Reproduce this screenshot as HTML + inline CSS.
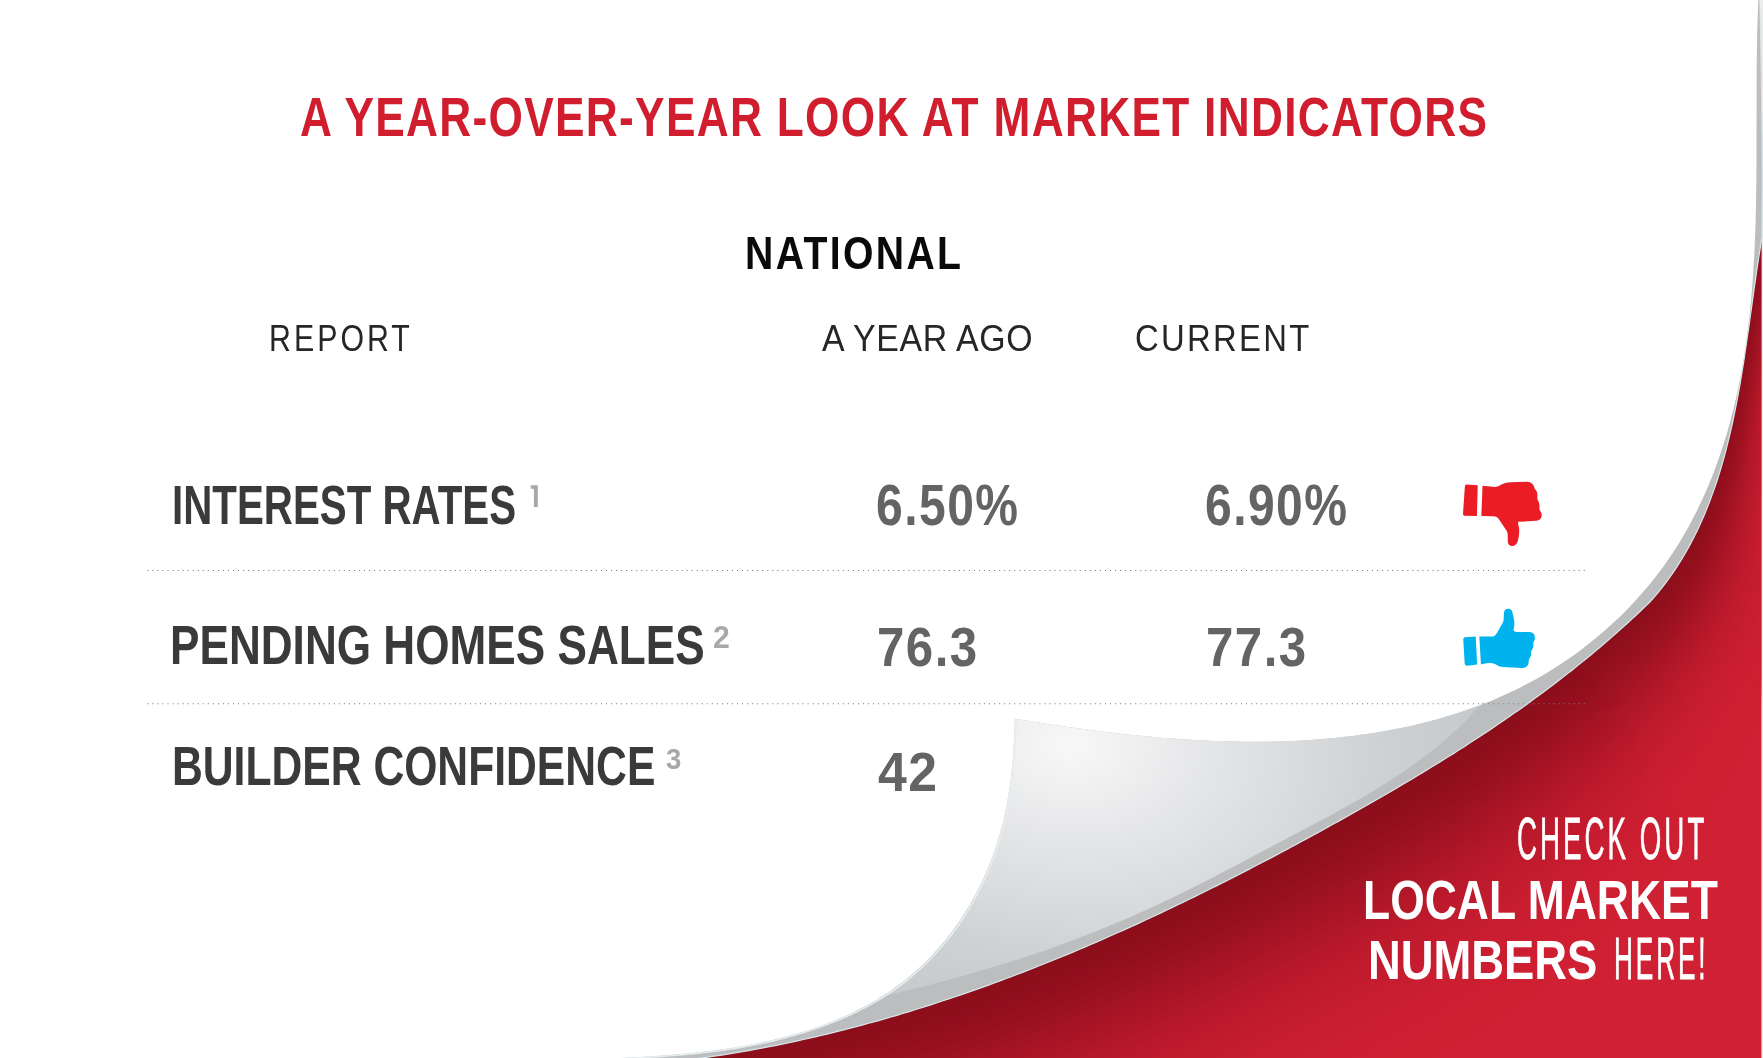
<!DOCTYPE html>
<html><head><meta charset="utf-8"><style>
html,body{margin:0;padding:0;}
body{width:1763px;height:1058px;overflow:hidden;background:#fff;position:relative;font-family:"Liberation Sans",sans-serif;}
.t{position:absolute;white-space:nowrap;transform-origin:0 0;}
svg{position:absolute;left:0;top:0;}
</style></head><body>
<svg width="1763" height="1058" viewBox="0 0 1763 1058">
<defs>
<path id="Fp" d="M659.7,1063.1 L665.8,1062.4 L671.9,1061.7 L677.9,1061.0 L684.0,1060.3 L690.0,1059.5 L696.1,1058.7 L702.1,1057.9 L708.1,1057.1 L714.1,1056.2 L720.2,1055.3 L726.2,1054.3 L732.1,1053.3 L738.1,1052.3 L744.1,1051.3 L750.1,1050.3 L756.0,1049.2 L762.0,1048.1 L767.9,1046.9 L773.9,1045.8 L779.8,1044.6 L785.7,1043.3 L791.6,1042.1 L797.6,1040.8 L803.5,1039.5 L809.4,1038.2 L815.2,1036.8 L821.1,1035.5 L827.0,1034.1 L832.9,1032.6 L838.7,1031.2 L844.6,1029.7 L850.4,1028.2 L856.3,1026.6 L862.1,1025.1 L867.9,1023.5 L873.7,1021.9 L879.5,1020.3 L885.3,1018.6 L891.1,1017.0 L896.9,1015.3 L902.7,1013.5 L908.5,1011.8 L914.2,1010.0 L920.0,1008.2 L925.7,1006.4 L931.5,1004.6 L937.2,1002.7 L943.0,1000.8 L948.7,998.9 L954.4,997.0 L960.1,995.1 L965.8,993.1 L971.5,991.1 L977.2,989.1 L982.9,987.1 L988.6,985.1 L994.3,983.0 L999.9,980.9 L1005.6,978.8 L1011.2,976.7 L1016.9,974.5 L1022.5,972.4 L1028.1,970.2 L1033.8,968.0 L1039.4,965.8 L1045.0,963.5 L1050.6,961.3 L1056.2,959.0 L1061.8,956.7 L1067.4,954.4 L1073.0,952.1 L1078.5,949.7 L1084.1,947.4 L1089.7,945.0 L1095.2,942.6 L1100.8,940.2 L1106.3,937.7 L1111.9,935.3 L1117.4,932.8 L1122.9,930.4 L1128.4,927.9 L1134.0,925.4 L1139.5,922.9 L1145.0,920.3 L1150.5,917.8 L1155.9,915.2 L1161.4,912.6 L1166.9,910.0 L1172.4,907.4 L1177.8,904.8 L1183.3,902.2 L1188.8,899.5 L1194.2,896.9 L1199.6,894.2 L1205.1,891.5 L1210.5,888.8 L1215.9,886.1 L1221.3,883.4 L1226.8,880.7 L1232.2,877.9 L1237.6,875.2 L1243.0,872.4 L1248.4,869.6 L1253.7,866.8 L1259.1,864.0 L1264.5,861.2 L1269.9,858.4 L1275.2,855.6 L1280.6,852.7 L1285.9,849.9 L1291.3,847.0 L1296.6,844.1 L1301.9,841.3 L1307.3,838.4 L1312.6,835.5 L1317.9,832.6 L1323.2,829.7 L1328.5,826.7 L1333.8,823.8 L1339.1,820.9 L1344.4,817.9 L1349.7,815.0 L1355.0,812.0 L1360.2,809.0 L1365.5,806.0 L1370.8,803.0 L1376.0,800.0 L1381.3,797.0 L1386.5,794.0 L1391.7,790.9 L1396.9,787.9 L1402.1,784.8 L1407.3,781.8 L1412.5,778.7 L1417.7,775.6 L1422.9,772.4 L1428.0,769.3 L1433.2,766.1 L1438.3,763.0 L1443.5,759.8 L1448.6,756.6 L1453.7,753.4 L1458.8,750.1 L1463.9,746.9 L1468.9,743.6 L1474.0,740.3 L1479.0,737.0 L1484.0,733.7 L1489.1,730.4 L1494.1,727.0 L1499.1,723.6 L1504.0,720.2 L1509.0,716.8 L1513.9,713.3 L1518.9,709.9 L1523.8,706.4 L1528.7,702.9 L1533.5,699.3 L1538.4,695.8 L1543.3,692.2 L1548.1,688.6 L1552.9,685.0 L1557.7,681.3 L1562.5,677.6 L1567.2,673.9 L1572.0,670.2 L1576.7,666.4 L1581.4,662.6 L1586.1,658.8 L1590.8,655.0 L1595.4,651.1 L1600.0,647.2 L1604.6,643.3 L1609.2,639.4 L1613.8,635.4 L1618.3,631.4 L1622.8,627.3 L1627.3,623.2 L1631.8,619.1 L1636.3,615.0 L1640.7,610.8 L1645.1,606.6 L1649.6,602.4 L1653.8,597.7 L1657.8,592.9 L1661.7,588.1 L1665.5,583.2 L1669.1,578.2 L1672.7,573.2 L1676.1,568.1 L1679.4,562.9 L1682.6,557.7 L1685.7,552.4 L1688.7,547.1 L1691.6,541.7 L1694.4,536.3 L1697.1,530.9 L1699.7,525.3 L1702.2,519.8 L1704.6,514.2 L1706.9,508.5 L1709.2,502.9 L1711.3,497.1 L1713.4,491.4 L1715.4,485.6 L1717.4,479.8 L1719.2,473.9 L1721.0,468.0 L1722.7,462.1 L1724.4,456.2 L1726.0,450.2 L1727.5,444.2 L1729.0,438.2 L1730.4,432.1 L1731.8,426.1 L1733.1,420.0 L1734.4,413.9 L1735.6,407.8 L1736.8,401.7 L1738.0,395.6 L1739.1,389.4 L1740.2,383.3 L1741.2,377.1 L1742.2,370.9 L1743.2,364.8 L1744.2,358.6 L1745.1,352.4 L1746.0,346.3 L1746.9,340.1 L1747.8,333.9 L1748.7,327.8 L1749.6,321.6 L1750.4,315.5 L1751.3,309.4 L1752.1,303.3 L1753.0,297.2 L1753.8,291.1 L1754.7,285.0 L1755.6,279.0 L1756.4,272.9 L1757.3,266.9 L1758.2,260.9 L1759.1,255.0 L1760.1,249.0 L1761.0,243.1 L1762.0,237.3 L1762.4,180.0 L1762.2,140.0 L1760.8,40.0 L1759.8,-2.0"/>
<filter id="sb" x="-20%" y="-20%" width="140%" height="140%" color-interpolation-filters="sRGB"><feGaussianBlur stdDeviation="5"/></filter>
<clipPath id="redclip"><path d="M659.7,1063.1 L665.8,1062.4 L671.9,1061.7 L677.9,1061.0 L684.0,1060.3 L690.0,1059.5 L696.1,1058.7 L702.1,1057.9 L708.1,1057.1 L714.1,1056.2 L720.2,1055.3 L726.2,1054.3 L732.1,1053.3 L738.1,1052.3 L744.1,1051.3 L750.1,1050.3 L756.0,1049.2 L762.0,1048.1 L767.9,1046.9 L773.9,1045.8 L779.8,1044.6 L785.7,1043.3 L791.6,1042.1 L797.6,1040.8 L803.5,1039.5 L809.4,1038.2 L815.2,1036.8 L821.1,1035.5 L827.0,1034.1 L832.9,1032.6 L838.7,1031.2 L844.6,1029.7 L850.4,1028.2 L856.3,1026.6 L862.1,1025.1 L867.9,1023.5 L873.7,1021.9 L879.5,1020.3 L885.3,1018.6 L891.1,1017.0 L896.9,1015.3 L902.7,1013.5 L908.5,1011.8 L914.2,1010.0 L920.0,1008.2 L925.7,1006.4 L931.5,1004.6 L937.2,1002.7 L943.0,1000.8 L948.7,998.9 L954.4,997.0 L960.1,995.1 L965.8,993.1 L971.5,991.1 L977.2,989.1 L982.9,987.1 L988.6,985.1 L994.3,983.0 L999.9,980.9 L1005.6,978.8 L1011.2,976.7 L1016.9,974.5 L1022.5,972.4 L1028.1,970.2 L1033.8,968.0 L1039.4,965.8 L1045.0,963.5 L1050.6,961.3 L1056.2,959.0 L1061.8,956.7 L1067.4,954.4 L1073.0,952.1 L1078.5,949.7 L1084.1,947.4 L1089.7,945.0 L1095.2,942.6 L1100.8,940.2 L1106.3,937.7 L1111.9,935.3 L1117.4,932.8 L1122.9,930.4 L1128.4,927.9 L1134.0,925.4 L1139.5,922.9 L1145.0,920.3 L1150.5,917.8 L1155.9,915.2 L1161.4,912.6 L1166.9,910.0 L1172.4,907.4 L1177.8,904.8 L1183.3,902.2 L1188.8,899.5 L1194.2,896.9 L1199.6,894.2 L1205.1,891.5 L1210.5,888.8 L1215.9,886.1 L1221.3,883.4 L1226.8,880.7 L1232.2,877.9 L1237.6,875.2 L1243.0,872.4 L1248.4,869.6 L1253.7,866.8 L1259.1,864.0 L1264.5,861.2 L1269.9,858.4 L1275.2,855.6 L1280.6,852.7 L1285.9,849.9 L1291.3,847.0 L1296.6,844.1 L1301.9,841.3 L1307.3,838.4 L1312.6,835.5 L1317.9,832.6 L1323.2,829.7 L1328.5,826.7 L1333.8,823.8 L1339.1,820.9 L1344.4,817.9 L1349.7,815.0 L1355.0,812.0 L1360.2,809.0 L1365.5,806.0 L1370.8,803.0 L1376.0,800.0 L1381.3,797.0 L1386.5,794.0 L1391.7,790.9 L1396.9,787.9 L1402.1,784.8 L1407.3,781.8 L1412.5,778.7 L1417.7,775.6 L1422.9,772.4 L1428.0,769.3 L1433.2,766.1 L1438.3,763.0 L1443.5,759.8 L1448.6,756.6 L1453.7,753.4 L1458.8,750.1 L1463.9,746.9 L1468.9,743.6 L1474.0,740.3 L1479.0,737.0 L1484.0,733.7 L1489.1,730.4 L1494.1,727.0 L1499.1,723.6 L1504.0,720.2 L1509.0,716.8 L1513.9,713.3 L1518.9,709.9 L1523.8,706.4 L1528.7,702.9 L1533.5,699.3 L1538.4,695.8 L1543.3,692.2 L1548.1,688.6 L1552.9,685.0 L1557.7,681.3 L1562.5,677.6 L1567.2,673.9 L1572.0,670.2 L1576.7,666.4 L1581.4,662.6 L1586.1,658.8 L1590.8,655.0 L1595.4,651.1 L1600.0,647.2 L1604.6,643.3 L1609.2,639.4 L1613.8,635.4 L1618.3,631.4 L1622.8,627.3 L1627.3,623.2 L1631.8,619.1 L1636.3,615.0 L1640.7,610.8 L1645.1,606.6 L1649.6,602.4 L1653.8,597.7 L1657.8,592.9 L1661.7,588.1 L1665.5,583.2 L1669.1,578.2 L1672.7,573.2 L1676.1,568.1 L1679.4,562.9 L1682.6,557.7 L1685.7,552.4 L1688.7,547.1 L1691.6,541.7 L1694.4,536.3 L1697.1,530.9 L1699.7,525.3 L1702.2,519.8 L1704.6,514.2 L1706.9,508.5 L1709.2,502.9 L1711.3,497.1 L1713.4,491.4 L1715.4,485.6 L1717.4,479.8 L1719.2,473.9 L1721.0,468.0 L1722.7,462.1 L1724.4,456.2 L1726.0,450.2 L1727.5,444.2 L1729.0,438.2 L1730.4,432.1 L1731.8,426.1 L1733.1,420.0 L1734.4,413.9 L1735.6,407.8 L1736.8,401.7 L1738.0,395.6 L1739.1,389.4 L1740.2,383.3 L1741.2,377.1 L1742.2,370.9 L1743.2,364.8 L1744.2,358.6 L1745.1,352.4 L1746.0,346.3 L1746.9,340.1 L1747.8,333.9 L1748.7,327.8 L1749.6,321.6 L1750.4,315.5 L1751.3,309.4 L1752.1,303.3 L1753.0,297.2 L1753.8,291.1 L1754.7,285.0 L1755.6,279.0 L1756.4,272.9 L1757.3,266.9 L1758.2,260.9 L1759.1,255.0 L1760.1,249.0 L1761.0,243.1 L1762.0,237.3 L1761.4,236 L1761.4,1062 Z"/></clipPath>
<radialGradient id="flapg" gradientUnits="userSpaceOnUse" cx="1070" cy="745" r="300" fx="1070" fy="745" gradientTransform="translate(1070 745) rotate(5) scale(1.45 1) translate(-1070 -745)">
<stop offset="0" stop-color="#f8f8f8"/><stop offset="0.35" stop-color="#e3e4e6"/><stop offset="0.7" stop-color="#cfd2d4"/><stop offset="1" stop-color="#c5c8cb"/></radialGradient>
</defs>
<rect x="1761" y="0" width="2" height="1058" fill="#f0e8e9"/>
<path d="M659.7,1063.1 L665.8,1062.4 L671.9,1061.7 L677.9,1061.0 L684.0,1060.3 L690.0,1059.5 L696.1,1058.7 L702.1,1057.9 L708.1,1057.1 L714.1,1056.2 L720.2,1055.3 L726.2,1054.3 L732.1,1053.3 L738.1,1052.3 L744.1,1051.3 L750.1,1050.3 L756.0,1049.2 L762.0,1048.1 L767.9,1046.9 L773.9,1045.8 L779.8,1044.6 L785.7,1043.3 L791.6,1042.1 L797.6,1040.8 L803.5,1039.5 L809.4,1038.2 L815.2,1036.8 L821.1,1035.5 L827.0,1034.1 L832.9,1032.6 L838.7,1031.2 L844.6,1029.7 L850.4,1028.2 L856.3,1026.6 L862.1,1025.1 L867.9,1023.5 L873.7,1021.9 L879.5,1020.3 L885.3,1018.6 L891.1,1017.0 L896.9,1015.3 L902.7,1013.5 L908.5,1011.8 L914.2,1010.0 L920.0,1008.2 L925.7,1006.4 L931.5,1004.6 L937.2,1002.7 L943.0,1000.8 L948.7,998.9 L954.4,997.0 L960.1,995.1 L965.8,993.1 L971.5,991.1 L977.2,989.1 L982.9,987.1 L988.6,985.1 L994.3,983.0 L999.9,980.9 L1005.6,978.8 L1011.2,976.7 L1016.9,974.5 L1022.5,972.4 L1028.1,970.2 L1033.8,968.0 L1039.4,965.8 L1045.0,963.5 L1050.6,961.3 L1056.2,959.0 L1061.8,956.7 L1067.4,954.4 L1073.0,952.1 L1078.5,949.7 L1084.1,947.4 L1089.7,945.0 L1095.2,942.6 L1100.8,940.2 L1106.3,937.7 L1111.9,935.3 L1117.4,932.8 L1122.9,930.4 L1128.4,927.9 L1134.0,925.4 L1139.5,922.9 L1145.0,920.3 L1150.5,917.8 L1155.9,915.2 L1161.4,912.6 L1166.9,910.0 L1172.4,907.4 L1177.8,904.8 L1183.3,902.2 L1188.8,899.5 L1194.2,896.9 L1199.6,894.2 L1205.1,891.5 L1210.5,888.8 L1215.9,886.1 L1221.3,883.4 L1226.8,880.7 L1232.2,877.9 L1237.6,875.2 L1243.0,872.4 L1248.4,869.6 L1253.7,866.8 L1259.1,864.0 L1264.5,861.2 L1269.9,858.4 L1275.2,855.6 L1280.6,852.7 L1285.9,849.9 L1291.3,847.0 L1296.6,844.1 L1301.9,841.3 L1307.3,838.4 L1312.6,835.5 L1317.9,832.6 L1323.2,829.7 L1328.5,826.7 L1333.8,823.8 L1339.1,820.9 L1344.4,817.9 L1349.7,815.0 L1355.0,812.0 L1360.2,809.0 L1365.5,806.0 L1370.8,803.0 L1376.0,800.0 L1381.3,797.0 L1386.5,794.0 L1391.7,790.9 L1396.9,787.9 L1402.1,784.8 L1407.3,781.8 L1412.5,778.7 L1417.7,775.6 L1422.9,772.4 L1428.0,769.3 L1433.2,766.1 L1438.3,763.0 L1443.5,759.8 L1448.6,756.6 L1453.7,753.4 L1458.8,750.1 L1463.9,746.9 L1468.9,743.6 L1474.0,740.3 L1479.0,737.0 L1484.0,733.7 L1489.1,730.4 L1494.1,727.0 L1499.1,723.6 L1504.0,720.2 L1509.0,716.8 L1513.9,713.3 L1518.9,709.9 L1523.8,706.4 L1528.7,702.9 L1533.5,699.3 L1538.4,695.8 L1543.3,692.2 L1548.1,688.6 L1552.9,685.0 L1557.7,681.3 L1562.5,677.6 L1567.2,673.9 L1572.0,670.2 L1576.7,666.4 L1581.4,662.6 L1586.1,658.8 L1590.8,655.0 L1595.4,651.1 L1600.0,647.2 L1604.6,643.3 L1609.2,639.4 L1613.8,635.4 L1618.3,631.4 L1622.8,627.3 L1627.3,623.2 L1631.8,619.1 L1636.3,615.0 L1640.7,610.8 L1645.1,606.6 L1649.6,602.4 L1653.8,597.7 L1657.8,592.9 L1661.7,588.1 L1665.5,583.2 L1669.1,578.2 L1672.7,573.2 L1676.1,568.1 L1679.4,562.9 L1682.6,557.7 L1685.7,552.4 L1688.7,547.1 L1691.6,541.7 L1694.4,536.3 L1697.1,530.9 L1699.7,525.3 L1702.2,519.8 L1704.6,514.2 L1706.9,508.5 L1709.2,502.9 L1711.3,497.1 L1713.4,491.4 L1715.4,485.6 L1717.4,479.8 L1719.2,473.9 L1721.0,468.0 L1722.7,462.1 L1724.4,456.2 L1726.0,450.2 L1727.5,444.2 L1729.0,438.2 L1730.4,432.1 L1731.8,426.1 L1733.1,420.0 L1734.4,413.9 L1735.6,407.8 L1736.8,401.7 L1738.0,395.6 L1739.1,389.4 L1740.2,383.3 L1741.2,377.1 L1742.2,370.9 L1743.2,364.8 L1744.2,358.6 L1745.1,352.4 L1746.0,346.3 L1746.9,340.1 L1747.8,333.9 L1748.7,327.8 L1749.6,321.6 L1750.4,315.5 L1751.3,309.4 L1752.1,303.3 L1753.0,297.2 L1753.8,291.1 L1754.7,285.0 L1755.6,279.0 L1756.4,272.9 L1757.3,266.9 L1758.2,260.9 L1759.1,255.0 L1760.1,249.0 L1761.0,243.1 L1762.0,237.3 L1761.4,236 L1761.4,1062 Z" fill="#d02033"/>
<g clip-path="url(#redclip)"><g filter="url(#sb)"><path d="M657.1,1038.2 L675.0,1036.2 L692.8,1034.0 L710.5,1031.5 L728.1,1028.7 L745.7,1025.7 L763.2,1022.4 L780.6,1018.9 L798.0,1015.1 L815.4,1011.1 L832.6,1006.9 L849.9,1002.5 L867.0,997.8 L884.1,992.9 L901.2,987.9 L918.2,982.6 L935.1,977.1 L952.0,971.4 L968.9,965.6 L985.7,959.5 L1002.4,953.3 L1019.1,946.9 L1035.7,940.3 L1052.3,933.6 L1068.8,926.7 L1085.3,919.6 L1101.7,912.4 L1118.1,905.1 L1134.5,897.6 L1150.8,890.0 L1167.0,882.3 L1183.2,874.4 L1199.4,866.5 L1215.5,858.4 L1231.5,850.2 L1247.5,841.9 L1263.5,833.5 L1279.4,825.0 L1295.3,816.4 L1311.2,807.7 L1327.0,799.0 L1342.7,790.2 L1358.4,781.3 L1373.9,772.4 L1389.4,763.3 L1404.8,754.1 L1420.1,744.8 L1435.3,735.4 L1450.3,725.9 L1465.3,716.2 L1480.1,706.3 L1494.7,696.3 L1509.2,686.0 L1523.6,675.6 L1537.8,665.0 L1551.8,654.2 L1565.7,643.2 L1579.3,632.0 L1592.8,620.5 L1606.1,608.7 L1619.2,596.7 L1631.7,585.0 L1642.0,572.6 L1652.1,559.0 L1661.2,544.8 L1669.5,530.1 L1677.0,514.9 L1683.8,499.2 L1689.9,483.0 L1695.4,466.5 L1700.3,449.6 L1704.7,432.3 L1708.7,414.8 L1712.3,397.0 L1715.5,379.0 L1718.5,360.9 L1721.3,342.6 L1723.9,324.3 L1726.5,305.9 L1729.1,287.6 L1731.7,269.3 L1734.4,251.1 L1737.0,236.7 L1735.8,40.4 L1734.8,-1.4 L1761.6,-2.0 L1762.6,40.0 L1763.8,237.3 L1760.9,255.2 L1758.2,273.2 L1755.6,291.3 L1753.0,309.6 L1750.4,328.0 L1747.8,346.5 L1745.0,365.1 L1741.9,383.6 L1738.6,402.0 L1735.0,420.4 L1731.0,438.7 L1726.6,456.8 L1721.6,474.7 L1716.0,492.3 L1709.8,509.7 L1702.7,526.8 L1694.8,543.5 L1686.0,559.8 L1676.2,575.6 L1665.3,590.9 L1653.2,605.9 L1639.8,618.8 L1626.5,631.4 L1613.0,643.7 L1599.2,655.7 L1585.3,667.4 L1571.2,679.0 L1556.9,690.2 L1542.4,701.3 L1527.8,712.1 L1513.0,722.7 L1498.1,733.0 L1483.1,743.2 L1467.9,753.2 L1452.6,763.1 L1437.2,772.7 L1421.7,782.3 L1406.2,791.6 L1390.5,800.9 L1374.7,810.0 L1358.9,819.0 L1343.0,827.9 L1327.1,836.7 L1311.1,845.4 L1295.0,854.1 L1279.0,862.6 L1262.8,871.1 L1246.6,879.5 L1230.4,887.8 L1214.1,896.0 L1197.7,904.1 L1181.3,912.0 L1164.8,919.9 L1148.3,927.6 L1131.7,935.2 L1115.1,942.6 L1098.4,949.9 L1081.7,957.1 L1064.8,964.1 L1048.0,970.9 L1031.0,977.6 L1014.1,984.2 L997.0,990.5 L979.9,996.7 L962.7,1002.6 L945.5,1008.4 L928.2,1014.0 L910.8,1019.4 L893.4,1024.6 L875.9,1029.6 L858.3,1034.4 L840.7,1038.9 L823.0,1043.2 L805.2,1047.3 L787.4,1051.2 L769.5,1054.8 L751.5,1058.1 L733.4,1061.2 L715.3,1064.1 L697.1,1066.7 L678.9,1069.0 L660.6,1071.0 Z" fill="#8b0e1b"/><path d="M660.6,1071.0 L678.9,1069.0 L697.1,1066.7 L715.3,1064.1 L733.4,1061.2 L751.5,1058.1 L769.5,1054.8 L787.4,1051.2 L805.2,1047.3 L823.0,1043.2 L840.7,1038.9 L858.3,1034.4 L875.9,1029.6 L893.4,1024.6 L910.8,1019.4 L928.2,1014.0 L945.5,1008.4 L962.7,1002.6 L979.9,996.7 L997.0,990.5 L1014.1,984.2 L1031.0,977.6 L1048.0,970.9 L1064.8,964.1 L1081.7,957.1 L1098.4,949.9 L1115.1,942.6 L1131.7,935.2 L1148.3,927.6 L1164.8,919.9 L1181.3,912.0 L1197.7,904.1 L1214.1,896.0 L1230.4,887.8 L1246.6,879.5 L1262.8,871.1 L1279.0,862.6 L1295.0,854.1 L1311.1,845.4 L1327.1,836.7 L1343.0,827.9 L1358.9,819.0 L1374.7,810.0 L1390.5,800.9 L1406.2,791.6 L1421.7,782.3 L1437.2,772.7 L1452.6,763.1 L1467.9,753.2 L1483.1,743.2 L1498.1,733.0 L1513.0,722.7 L1527.8,712.1 L1542.4,701.3 L1556.9,690.2 L1571.2,679.0 L1585.3,667.4 L1599.2,655.7 L1613.0,643.7 L1626.5,631.4 L1639.8,618.8 L1653.2,605.9 L1665.3,590.9 L1676.2,575.6 L1686.0,559.8 L1694.8,543.5 L1702.7,526.8 L1709.8,509.7 L1716.0,492.3 L1721.6,474.7 L1726.6,456.8 L1731.0,438.7 L1735.0,420.4 L1738.6,402.0 L1741.9,383.6 L1745.0,365.1 L1747.8,346.5 L1750.4,328.0 L1753.0,309.6 L1755.6,291.3 L1758.2,273.2 L1760.9,255.2 L1763.8,237.3 L1762.6,40.0 L1761.6,-2.0 L1763.3,-2.1 L1764.3,39.9 L1765.5,237.3 L1762.6,255.5 L1759.9,273.4 L1757.3,291.6 L1754.8,309.9 L1752.2,328.3 L1749.5,346.8 L1746.7,365.3 L1743.6,383.9 L1740.4,402.4 L1736.9,420.8 L1733.0,439.1 L1728.8,457.4 L1724.0,475.4 L1718.6,493.2 L1712.6,510.8 L1705.8,528.2 L1698.1,545.2 L1689.5,561.8 L1679.8,578.0 L1669.0,593.8 L1656.7,609.3 L1643.4,622.6 L1630.1,635.4 L1616.7,648.0 L1603.0,660.2 L1589.2,672.3 L1575.1,684.0 L1560.9,695.5 L1546.4,706.7 L1531.9,717.7 L1517.1,728.5 L1502.2,739.1 L1487.2,749.4 L1472.0,759.6 L1456.7,769.6 L1441.3,779.3 L1425.8,789.0 L1410.2,798.4 L1394.5,807.7 L1378.7,816.9 L1362.8,825.9 L1346.9,834.8 L1330.9,843.7 L1314.9,852.4 L1298.8,861.1 L1282.7,869.7 L1266.5,878.2 L1250.3,886.6 L1234.0,894.9 L1217.6,903.1 L1201.2,911.3 L1184.8,919.2 L1168.3,927.1 L1151.7,934.8 L1135.0,942.5 L1118.3,949.9 L1101.6,957.3 L1084.8,964.5 L1067.9,971.5 L1051.0,978.4 L1034.0,985.1 L1016.9,991.6 L999.8,998.0 L982.6,1004.2 L965.3,1010.2 L948.0,1016.0 L930.6,1021.7 L913.1,1027.1 L895.6,1032.3 L878.0,1037.3 L860.3,1042.1 L842.6,1046.7 L824.8,1051.0 L806.9,1055.1 L789.0,1059.0 L771.0,1062.6 L752.9,1066.0 L734.7,1069.1 L716.5,1072.0 L698.2,1074.6 L679.8,1076.9 L661.4,1079.0 Z" fill="#8d0e1c"/><path d="M661.4,1079.0 L679.8,1076.9 L698.2,1074.6 L716.5,1072.0 L734.7,1069.1 L752.9,1066.0 L771.0,1062.6 L789.0,1059.0 L806.9,1055.1 L824.8,1051.0 L842.6,1046.7 L860.3,1042.1 L878.0,1037.3 L895.6,1032.3 L913.1,1027.1 L930.6,1021.7 L948.0,1016.0 L965.3,1010.2 L982.6,1004.2 L999.8,998.0 L1016.9,991.6 L1034.0,985.1 L1051.0,978.4 L1067.9,971.5 L1084.8,964.5 L1101.6,957.3 L1118.3,949.9 L1135.0,942.5 L1151.7,934.8 L1168.3,927.1 L1184.8,919.2 L1201.2,911.3 L1217.6,903.1 L1234.0,894.9 L1250.3,886.6 L1266.5,878.2 L1282.7,869.7 L1298.8,861.1 L1314.9,852.4 L1330.9,843.7 L1346.9,834.8 L1362.8,825.9 L1378.7,816.9 L1394.5,807.7 L1410.2,798.4 L1425.8,789.0 L1441.3,779.3 L1456.7,769.6 L1472.0,759.6 L1487.2,749.4 L1502.2,739.1 L1517.1,728.5 L1531.9,717.7 L1546.4,706.7 L1560.9,695.5 L1575.1,684.0 L1589.2,672.3 L1603.0,660.2 L1616.7,648.0 L1630.1,635.4 L1643.4,622.6 L1656.7,609.3 L1669.0,593.8 L1679.8,578.0 L1689.5,561.8 L1698.1,545.2 L1705.8,528.2 L1712.6,510.8 L1718.6,493.2 L1724.0,475.4 L1728.8,457.4 L1733.0,439.1 L1736.9,420.8 L1740.4,402.4 L1743.6,383.9 L1746.7,365.3 L1749.5,346.8 L1752.2,328.3 L1754.8,309.9 L1757.3,291.6 L1759.9,273.4 L1762.6,255.5 L1765.5,237.3 L1764.3,39.9 L1763.3,-2.1 L1765.1,-2.1 L1766.1,39.9 L1767.3,237.4 L1764.3,255.8 L1761.6,273.7 L1759.1,291.8 L1756.5,310.1 L1753.9,328.5 L1751.3,347.0 L1748.4,365.6 L1745.4,384.2 L1742.2,402.7 L1738.7,421.2 L1735.0,439.6 L1730.9,457.9 L1726.4,476.1 L1721.2,494.2 L1715.4,512.0 L1708.8,529.6 L1701.3,546.9 L1692.9,563.9 L1683.3,580.5 L1672.6,596.7 L1660.2,612.8 L1646.9,626.4 L1633.8,639.5 L1620.4,652.3 L1606.9,664.8 L1593.1,677.1 L1579.1,689.0 L1564.9,700.7 L1550.5,712.2 L1535.9,723.4 L1521.2,734.4 L1506.3,745.1 L1491.3,755.6 L1476.1,765.9 L1460.8,776.0 L1445.3,785.9 L1429.8,795.7 L1414.2,805.2 L1398.4,814.6 L1382.6,823.8 L1366.7,832.9 L1350.8,841.8 L1334.8,850.7 L1318.7,859.5 L1302.6,868.2 L1286.4,876.8 L1270.2,885.3 L1253.9,893.7 L1237.6,902.1 L1221.2,910.3 L1204.8,918.4 L1188.2,926.4 L1171.7,934.3 L1155.0,942.1 L1138.3,949.7 L1121.6,957.2 L1104.8,964.6 L1087.9,971.8 L1070.9,978.9 L1053.9,985.8 L1036.9,992.5 L1019.7,999.1 L1002.5,1005.5 L985.2,1011.7 L967.9,1017.8 L950.5,1023.6 L933.0,1029.3 L915.5,1034.7 L897.8,1040.0 L880.1,1045.0 L862.4,1049.8 L844.6,1054.4 L826.7,1058.8 L808.7,1062.9 L790.6,1066.8 L772.5,1070.5 L754.3,1073.9 L736.0,1077.0 L717.7,1079.9 L699.3,1082.5 L680.8,1084.9 L662.3,1086.9 Z" fill="#8f0f1c"/><path d="M662.3,1086.9 L680.8,1084.9 L699.3,1082.5 L717.7,1079.9 L736.0,1077.0 L754.3,1073.9 L772.5,1070.5 L790.6,1066.8 L808.7,1062.9 L826.7,1058.8 L844.6,1054.4 L862.4,1049.8 L880.1,1045.0 L897.8,1040.0 L915.5,1034.7 L933.0,1029.3 L950.5,1023.6 L967.9,1017.8 L985.2,1011.7 L1002.5,1005.5 L1019.7,999.1 L1036.9,992.5 L1053.9,985.8 L1070.9,978.9 L1087.9,971.8 L1104.8,964.6 L1121.6,957.2 L1138.3,949.7 L1155.0,942.1 L1171.7,934.3 L1188.2,926.4 L1204.8,918.4 L1221.2,910.3 L1237.6,902.1 L1253.9,893.7 L1270.2,885.3 L1286.4,876.8 L1302.6,868.2 L1318.7,859.5 L1334.8,850.7 L1350.8,841.8 L1366.7,832.9 L1382.6,823.8 L1398.4,814.6 L1414.2,805.2 L1429.8,795.7 L1445.3,785.9 L1460.8,776.0 L1476.1,765.9 L1491.3,755.6 L1506.3,745.1 L1521.2,734.4 L1535.9,723.4 L1550.5,712.2 L1564.9,700.7 L1579.1,689.0 L1593.1,677.1 L1606.9,664.8 L1620.4,652.3 L1633.8,639.5 L1646.9,626.4 L1660.2,612.8 L1672.6,596.7 L1683.3,580.5 L1692.9,563.9 L1701.3,546.9 L1708.8,529.6 L1715.4,512.0 L1721.2,494.2 L1726.4,476.1 L1730.9,457.9 L1735.0,439.6 L1738.7,421.2 L1742.2,402.7 L1745.4,384.2 L1748.4,365.6 L1751.3,347.0 L1753.9,328.5 L1756.5,310.1 L1759.1,291.8 L1761.6,273.7 L1764.3,255.8 L1767.3,237.4 L1766.1,39.9 L1765.1,-2.1 L1766.8,-2.2 L1767.8,39.9 L1769.1,237.4 L1766.1,256.1 L1763.4,273.9 L1760.8,292.1 L1758.2,310.4 L1755.7,328.8 L1753.0,347.3 L1750.2,365.9 L1747.1,384.5 L1743.9,403.0 L1740.6,421.6 L1737.0,440.1 L1733.1,458.5 L1728.7,476.9 L1723.8,495.1 L1718.2,513.1 L1711.9,531.0 L1704.6,548.6 L1696.3,565.9 L1686.9,582.9 L1676.3,599.5 L1663.8,616.2 L1650.5,630.2 L1637.5,643.5 L1624.2,656.6 L1610.7,669.4 L1596.9,681.9 L1583.0,694.1 L1568.8,706.0 L1554.5,717.7 L1540.0,729.1 L1525.2,740.2 L1510.4,751.1 L1495.3,761.8 L1480.2,772.3 L1464.8,782.5 L1449.4,792.5 L1433.8,802.4 L1418.2,812.0 L1402.4,821.5 L1386.6,830.7 L1370.7,839.9 L1354.7,848.8 L1338.6,857.7 L1322.5,866.5 L1306.4,875.2 L1290.2,883.8 L1273.9,892.4 L1257.6,900.9 L1241.2,909.2 L1224.8,917.5 L1208.3,925.6 L1191.7,933.7 L1175.1,941.6 L1158.4,949.4 L1141.6,957.0 L1124.8,964.6 L1107.9,972.0 L1091.0,979.2 L1074.0,986.3 L1056.9,993.2 L1039.8,1000.0 L1022.5,1006.6 L1005.3,1013.0 L987.9,1019.3 L970.5,1025.4 L953.0,1031.2 L935.4,1036.9 L917.8,1042.4 L900.1,1047.7 L882.3,1052.7 L864.4,1057.6 L846.5,1062.2 L828.5,1066.6 L810.4,1070.8 L792.3,1074.7 L774.0,1078.3 L755.7,1081.8 L737.3,1084.9 L718.9,1087.8 L700.3,1090.5 L681.7,1092.8 L663.1,1094.9 Z" fill="#920f1d"/><path d="M663.1,1094.9 L681.7,1092.8 L700.3,1090.5 L718.9,1087.8 L737.3,1084.9 L755.7,1081.8 L774.0,1078.3 L792.3,1074.7 L810.4,1070.8 L828.5,1066.6 L846.5,1062.2 L864.4,1057.6 L882.3,1052.7 L900.1,1047.7 L917.8,1042.4 L935.4,1036.9 L953.0,1031.2 L970.5,1025.4 L987.9,1019.3 L1005.3,1013.0 L1022.5,1006.6 L1039.8,1000.0 L1056.9,993.2 L1074.0,986.3 L1091.0,979.2 L1107.9,972.0 L1124.8,964.6 L1141.6,957.0 L1158.4,949.4 L1175.1,941.6 L1191.7,933.7 L1208.3,925.6 L1224.8,917.5 L1241.2,909.2 L1257.6,900.9 L1273.9,892.4 L1290.2,883.8 L1306.4,875.2 L1322.5,866.5 L1338.6,857.7 L1354.7,848.8 L1370.7,839.9 L1386.6,830.7 L1402.4,821.5 L1418.2,812.0 L1433.8,802.4 L1449.4,792.5 L1464.8,782.5 L1480.2,772.3 L1495.3,761.8 L1510.4,751.1 L1525.2,740.2 L1540.0,729.1 L1554.5,717.7 L1568.8,706.0 L1583.0,694.1 L1596.9,681.9 L1610.7,669.4 L1624.2,656.6 L1637.5,643.5 L1650.5,630.2 L1663.8,616.2 L1676.3,599.5 L1686.9,582.9 L1696.3,565.9 L1704.6,548.6 L1711.9,531.0 L1718.2,513.1 L1723.8,495.1 L1728.7,476.9 L1733.1,458.5 L1737.0,440.1 L1740.6,421.6 L1743.9,403.0 L1747.1,384.5 L1750.2,365.9 L1753.0,347.3 L1755.7,328.8 L1758.2,310.4 L1760.8,292.1 L1763.4,273.9 L1766.1,256.1 L1769.1,237.4 L1767.8,39.9 L1766.8,-2.2 L1768.6,-2.2 L1769.6,39.9 L1770.8,237.4 L1767.8,256.3 L1765.1,274.2 L1762.5,292.3 L1760.0,310.6 L1757.4,329.0 L1754.7,347.6 L1751.9,366.2 L1748.8,384.8 L1745.7,403.4 L1742.5,422.0 L1739.0,440.6 L1735.3,459.1 L1731.1,477.6 L1726.4,496.0 L1721.1,514.3 L1714.9,532.4 L1707.8,550.3 L1699.7,568.0 L1690.4,585.4 L1679.9,602.4 L1667.3,619.6 L1654.0,634.0 L1641.1,647.6 L1627.9,660.9 L1614.5,673.9 L1600.8,686.7 L1586.9,699.1 L1572.8,711.3 L1558.5,723.1 L1544.0,734.7 L1529.3,746.1 L1514.4,757.2 L1499.4,768.0 L1484.2,778.6 L1468.9,789.0 L1453.4,799.1 L1437.9,809.1 L1422.2,818.8 L1406.4,828.3 L1390.5,837.7 L1374.6,846.8 L1358.6,855.8 L1342.5,864.7 L1326.4,873.5 L1310.2,882.3 L1293.9,890.9 L1277.6,899.5 L1261.3,908.0 L1244.8,916.4 L1228.3,924.6 L1211.8,932.8 L1195.2,940.9 L1178.5,948.8 L1161.7,956.6 L1144.9,964.3 L1128.1,971.9 L1111.1,979.3 L1094.1,986.6 L1077.0,993.7 L1059.9,1000.6 L1042.7,1007.5 L1025.4,1014.1 L1008.0,1020.5 L990.6,1026.8 L973.1,1032.9 L955.5,1038.8 L937.8,1044.5 L920.1,1050.1 L902.3,1055.4 L884.4,1060.4 L866.5,1065.3 L848.5,1070.0 L830.3,1074.4 L812.2,1078.6 L793.9,1082.5 L775.6,1086.2 L757.1,1089.6 L738.6,1092.8 L720.1,1095.7 L701.4,1098.4 L682.7,1100.8 L664.0,1102.8 Z" fill="#95101e"/><path d="M664.0,1102.8 L682.7,1100.8 L701.4,1098.4 L720.1,1095.7 L738.6,1092.8 L757.1,1089.6 L775.6,1086.2 L793.9,1082.5 L812.2,1078.6 L830.3,1074.4 L848.5,1070.0 L866.5,1065.3 L884.4,1060.4 L902.3,1055.4 L920.1,1050.1 L937.8,1044.5 L955.5,1038.8 L973.1,1032.9 L990.6,1026.8 L1008.0,1020.5 L1025.4,1014.1 L1042.7,1007.5 L1059.9,1000.6 L1077.0,993.7 L1094.1,986.6 L1111.1,979.3 L1128.1,971.9 L1144.9,964.3 L1161.7,956.6 L1178.5,948.8 L1195.2,940.9 L1211.8,932.8 L1228.3,924.6 L1244.8,916.4 L1261.3,908.0 L1277.6,899.5 L1293.9,890.9 L1310.2,882.3 L1326.4,873.5 L1342.5,864.7 L1358.6,855.8 L1374.6,846.8 L1390.5,837.7 L1406.4,828.3 L1422.2,818.8 L1437.9,809.1 L1453.4,799.1 L1468.9,789.0 L1484.2,778.6 L1499.4,768.0 L1514.4,757.2 L1529.3,746.1 L1544.0,734.7 L1558.5,723.1 L1572.8,711.3 L1586.9,699.1 L1600.8,686.7 L1614.5,673.9 L1627.9,660.9 L1641.1,647.6 L1654.0,634.0 L1667.3,619.6 L1679.9,602.4 L1690.4,585.4 L1699.7,568.0 L1707.8,550.3 L1714.9,532.4 L1721.1,514.3 L1726.4,496.0 L1731.1,477.6 L1735.3,459.1 L1739.0,440.6 L1742.5,422.0 L1745.7,403.4 L1748.8,384.8 L1751.9,366.2 L1754.7,347.6 L1757.4,329.0 L1760.0,310.6 L1762.5,292.3 L1765.1,274.2 L1767.8,256.3 L1770.8,237.4 L1769.6,39.9 L1768.6,-2.2 L1770.4,-2.3 L1771.4,39.8 L1772.6,237.5 L1769.6,256.6 L1766.9,274.5 L1764.3,292.5 L1761.7,310.8 L1759.2,329.3 L1756.5,347.8 L1753.6,366.4 L1750.6,385.1 L1747.5,403.7 L1744.3,422.4 L1741.0,441.1 L1737.5,459.7 L1733.5,478.4 L1729.0,496.9 L1723.9,515.4 L1718.0,533.8 L1711.1,552.0 L1703.1,570.0 L1694.0,587.8 L1683.5,605.2 L1670.8,623.1 L1657.6,637.8 L1644.8,651.7 L1631.7,665.2 L1618.3,678.5 L1604.7,691.5 L1590.9,704.1 L1576.8,716.5 L1562.5,728.6 L1548.1,740.4 L1533.4,751.9 L1518.5,763.2 L1503.5,774.2 L1488.3,785.0 L1473.0,795.5 L1457.5,805.7 L1441.9,815.8 L1426.2,825.6 L1410.4,835.2 L1394.5,844.6 L1378.5,853.8 L1362.4,862.8 L1346.3,871.7 L1330.2,880.6 L1314.0,889.3 L1297.7,898.0 L1281.3,906.6 L1264.9,915.1 L1248.4,923.5 L1231.9,931.8 L1215.3,940.0 L1198.6,948.1 L1181.9,956.0 L1165.1,963.9 L1148.2,971.6 L1131.3,979.2 L1114.3,986.6 L1097.2,993.9 L1080.1,1001.1 L1062.9,1008.1 L1045.6,1014.9 L1028.2,1021.6 L1010.8,1028.1 L993.2,1034.4 L975.7,1040.5 L958.0,1046.4 L940.3,1052.2 L922.4,1057.7 L904.5,1063.0 L886.6,1068.2 L868.5,1073.0 L850.4,1077.7 L832.2,1082.2 L813.9,1086.4 L795.5,1090.3 L777.1,1094.0 L758.6,1097.5 L739.9,1100.7 L721.2,1103.6 L702.5,1106.3 L683.6,1108.7 L664.8,1110.8 Z" fill="#981120"/><path d="M664.8,1110.8 L683.6,1108.7 L702.5,1106.3 L721.2,1103.6 L739.9,1100.7 L758.6,1097.5 L777.1,1094.0 L795.5,1090.3 L813.9,1086.4 L832.2,1082.2 L850.4,1077.7 L868.5,1073.0 L886.6,1068.2 L904.5,1063.0 L922.4,1057.7 L940.3,1052.2 L958.0,1046.4 L975.7,1040.5 L993.2,1034.4 L1010.8,1028.1 L1028.2,1021.6 L1045.6,1014.9 L1062.9,1008.1 L1080.1,1001.1 L1097.2,993.9 L1114.3,986.6 L1131.3,979.2 L1148.2,971.6 L1165.1,963.9 L1181.9,956.0 L1198.6,948.1 L1215.3,940.0 L1231.9,931.8 L1248.4,923.5 L1264.9,915.1 L1281.3,906.6 L1297.7,898.0 L1314.0,889.3 L1330.2,880.6 L1346.3,871.7 L1362.4,862.8 L1378.5,853.8 L1394.5,844.6 L1410.4,835.2 L1426.2,825.6 L1441.9,815.8 L1457.5,805.7 L1473.0,795.5 L1488.3,785.0 L1503.5,774.2 L1518.5,763.2 L1533.4,751.9 L1548.1,740.4 L1562.5,728.6 L1576.8,716.5 L1590.9,704.1 L1604.7,691.5 L1618.3,678.5 L1631.7,665.2 L1644.8,651.7 L1657.6,637.8 L1670.8,623.1 L1683.5,605.2 L1694.0,587.8 L1703.1,570.0 L1711.1,552.0 L1718.0,533.8 L1723.9,515.4 L1729.0,496.9 L1733.5,478.4 L1737.5,459.7 L1741.0,441.1 L1744.3,422.4 L1747.5,403.7 L1750.6,385.1 L1753.6,366.4 L1756.5,347.8 L1759.2,329.3 L1761.7,310.8 L1764.3,292.5 L1766.9,274.5 L1769.6,256.6 L1772.6,237.5 L1771.4,39.8 L1770.4,-2.3 L1772.1,-2.3 L1773.1,39.8 L1774.3,237.5 L1771.3,256.9 L1768.6,274.7 L1766.0,292.8 L1763.5,311.1 L1760.9,329.5 L1758.2,348.1 L1755.4,366.7 L1752.3,385.4 L1749.2,404.1 L1746.2,422.8 L1743.0,441.6 L1739.6,460.3 L1735.9,479.1 L1731.6,497.8 L1726.7,516.5 L1721.0,535.2 L1714.3,553.7 L1706.6,572.1 L1697.6,590.2 L1687.2,608.1 L1674.4,626.5 L1661.1,641.6 L1648.4,655.7 L1635.4,669.5 L1622.1,683.0 L1608.6,696.3 L1594.8,709.2 L1580.8,721.8 L1566.6,734.1 L1552.1,746.1 L1537.4,757.8 L1522.6,769.2 L1507.6,780.4 L1492.4,791.3 L1477.0,801.9 L1461.6,812.3 L1445.9,822.5 L1430.2,832.4 L1414.4,842.0 L1398.4,851.5 L1382.4,860.8 L1366.3,869.8 L1350.2,878.7 L1334.0,887.6 L1317.7,896.4 L1301.4,905.1 L1285.0,913.7 L1268.6,922.2 L1252.1,930.6 L1235.5,939.0 L1218.8,947.2 L1202.1,955.3 L1185.3,963.3 L1168.5,971.2 L1151.5,978.9 L1134.5,986.5 L1117.5,994.0 L1100.3,1001.3 L1083.1,1008.5 L1065.8,1015.5 L1048.5,1022.4 L1031.0,1029.1 L1013.5,1035.6 L995.9,1041.9 L978.3,1048.1 L960.5,1054.0 L942.7,1059.8 L924.8,1065.4 L906.8,1070.7 L888.7,1075.9 L870.6,1080.8 L852.3,1085.5 L834.0,1089.9 L815.6,1094.2 L797.2,1098.2 L778.6,1101.9 L760.0,1105.4 L741.2,1108.6 L722.4,1111.6 L703.5,1114.2 L684.6,1116.6 L665.6,1118.7 Z" fill="#9c1221"/><path d="M665.6,1118.7 L684.6,1116.6 L703.5,1114.2 L722.4,1111.6 L741.2,1108.6 L760.0,1105.4 L778.6,1101.9 L797.2,1098.2 L815.6,1094.2 L834.0,1089.9 L852.3,1085.5 L870.6,1080.8 L888.7,1075.9 L906.8,1070.7 L924.8,1065.4 L942.7,1059.8 L960.5,1054.0 L978.3,1048.1 L995.9,1041.9 L1013.5,1035.6 L1031.0,1029.1 L1048.5,1022.4 L1065.8,1015.5 L1083.1,1008.5 L1100.3,1001.3 L1117.5,994.0 L1134.5,986.5 L1151.5,978.9 L1168.5,971.2 L1185.3,963.3 L1202.1,955.3 L1218.8,947.2 L1235.5,939.0 L1252.1,930.6 L1268.6,922.2 L1285.0,913.7 L1301.4,905.1 L1317.7,896.4 L1334.0,887.6 L1350.2,878.7 L1366.3,869.8 L1382.4,860.8 L1398.4,851.5 L1414.4,842.0 L1430.2,832.4 L1445.9,822.5 L1461.6,812.3 L1477.0,801.9 L1492.4,791.3 L1507.6,780.4 L1522.6,769.2 L1537.4,757.8 L1552.1,746.1 L1566.6,734.1 L1580.8,721.8 L1594.8,709.2 L1608.6,696.3 L1622.1,683.0 L1635.4,669.5 L1648.4,655.7 L1661.1,641.6 L1674.4,626.5 L1687.2,608.1 L1697.6,590.2 L1706.6,572.1 L1714.3,553.7 L1721.0,535.2 L1726.7,516.5 L1731.6,497.8 L1735.9,479.1 L1739.6,460.3 L1743.0,441.6 L1746.2,422.8 L1749.2,404.1 L1752.3,385.4 L1755.4,366.7 L1758.2,348.1 L1760.9,329.5 L1763.5,311.1 L1766.0,292.8 L1768.6,274.7 L1771.3,256.9 L1774.3,237.5 L1773.1,39.8 L1772.1,-2.3 L1773.9,-2.3 L1774.9,39.8 L1776.1,237.6 L1773.0,257.1 L1770.4,275.0 L1767.8,293.0 L1765.2,311.3 L1762.6,329.8 L1760.0,348.3 L1757.1,367.0 L1754.1,385.7 L1751.0,404.4 L1748.0,423.2 L1745.0,442.0 L1741.8,460.9 L1738.3,479.8 L1734.2,498.8 L1729.5,517.7 L1724.0,536.6 L1717.6,555.4 L1710.0,574.1 L1701.1,592.7 L1690.8,611.0 L1677.9,630.0 L1664.7,645.4 L1652.1,659.8 L1639.1,673.8 L1626.0,687.6 L1612.5,701.1 L1598.8,714.2 L1584.8,727.0 L1570.6,739.5 L1556.1,751.8 L1541.5,763.7 L1526.7,775.3 L1511.6,786.6 L1496.5,797.7 L1481.1,808.4 L1465.6,818.9 L1450.0,829.2 L1434.2,839.2 L1418.4,848.9 L1402.4,858.4 L1386.3,867.7 L1370.2,876.8 L1354.0,885.7 L1337.8,894.6 L1321.5,903.4 L1305.2,912.1 L1288.7,920.8 L1272.2,929.3 L1255.7,937.8 L1239.0,946.1 L1222.3,954.4 L1205.6,962.5 L1188.7,970.5 L1171.8,978.4 L1154.8,986.2 L1137.8,993.8 L1120.6,1001.3 L1103.4,1008.7 L1086.2,1015.9 L1068.8,1022.9 L1051.4,1029.8 L1033.9,1036.5 L1016.3,1043.1 L998.6,1049.4 L980.8,1055.6 L963.0,1061.6 L945.1,1067.4 L927.1,1073.0 L909.0,1078.4 L890.9,1083.6 L872.6,1088.5 L854.3,1093.2 L835.9,1097.7 L817.4,1102.0 L798.8,1106.0 L780.1,1109.8 L761.4,1113.3 L742.5,1116.5 L723.6,1119.5 L704.6,1122.2 L685.5,1124.6 L666.5,1126.7 Z" fill="#a01322"/><path d="M666.5,1126.7 L685.5,1124.6 L704.6,1122.2 L723.6,1119.5 L742.5,1116.5 L761.4,1113.3 L780.1,1109.8 L798.8,1106.0 L817.4,1102.0 L835.9,1097.7 L854.3,1093.2 L872.6,1088.5 L890.9,1083.6 L909.0,1078.4 L927.1,1073.0 L945.1,1067.4 L963.0,1061.6 L980.8,1055.6 L998.6,1049.4 L1016.3,1043.1 L1033.9,1036.5 L1051.4,1029.8 L1068.8,1022.9 L1086.2,1015.9 L1103.4,1008.7 L1120.6,1001.3 L1137.8,993.8 L1154.8,986.2 L1171.8,978.4 L1188.7,970.5 L1205.6,962.5 L1222.3,954.4 L1239.0,946.1 L1255.7,937.8 L1272.2,929.3 L1288.7,920.8 L1305.2,912.1 L1321.5,903.4 L1337.8,894.6 L1354.0,885.7 L1370.2,876.8 L1386.3,867.7 L1402.4,858.4 L1418.4,848.9 L1434.2,839.2 L1450.0,829.2 L1465.6,818.9 L1481.1,808.4 L1496.5,797.7 L1511.6,786.6 L1526.7,775.3 L1541.5,763.7 L1556.1,751.8 L1570.6,739.5 L1584.8,727.0 L1598.8,714.2 L1612.5,701.1 L1626.0,687.6 L1639.1,673.8 L1652.1,659.8 L1664.7,645.4 L1677.9,630.0 L1690.8,611.0 L1701.1,592.7 L1710.0,574.1 L1717.6,555.4 L1724.0,536.6 L1729.5,517.7 L1734.2,498.8 L1738.3,479.8 L1741.8,460.9 L1745.0,442.0 L1748.0,423.2 L1751.0,404.4 L1754.1,385.7 L1757.1,367.0 L1760.0,348.3 L1762.6,329.8 L1765.2,311.3 L1767.8,293.0 L1770.4,275.0 L1773.0,257.1 L1776.1,237.6 L1774.9,39.8 L1773.9,-2.3 L1775.6,-2.4 L1776.6,39.7 L1777.9,237.6 L1774.8,257.4 L1772.1,275.2 L1769.5,293.3 L1767.0,311.6 L1764.4,330.0 L1761.7,348.6 L1758.9,367.3 L1755.8,386.0 L1752.8,404.7 L1749.9,423.6 L1747.0,442.5 L1744.0,461.5 L1740.6,480.6 L1736.8,499.7 L1732.4,518.8 L1727.1,538.0 L1720.8,557.1 L1713.4,576.2 L1704.7,595.1 L1694.5,613.8 L1681.4,633.4 L1668.2,649.2 L1655.7,663.8 L1642.9,678.2 L1629.8,692.2 L1616.4,705.9 L1602.7,719.2 L1588.8,732.3 L1574.6,745.0 L1560.2,757.4 L1545.6,769.5 L1530.7,781.3 L1515.7,792.8 L1500.5,804.0 L1485.2,814.9 L1469.7,825.5 L1454.0,835.9 L1438.2,846.0 L1422.3,855.8 L1406.4,865.4 L1390.3,874.7 L1374.1,883.8 L1357.9,892.8 L1341.6,901.6 L1325.3,910.5 L1308.9,919.2 L1292.4,927.9 L1275.9,936.4 L1259.3,944.9 L1242.6,953.3 L1225.9,961.5 L1209.0,969.7 L1192.1,977.8 L1175.2,985.7 L1158.1,993.5 L1141.0,1001.1 L1123.8,1008.7 L1106.6,1016.0 L1089.2,1023.3 L1071.8,1030.4 L1054.3,1037.3 L1036.7,1044.0 L1019.0,1050.6 L1001.3,1057.0 L983.4,1063.2 L965.5,1069.2 L947.5,1075.0 L929.4,1080.7 L911.3,1086.1 L893.0,1091.3 L874.7,1096.3 L856.2,1101.0 L837.7,1105.5 L819.1,1109.8 L800.4,1113.8 L781.7,1117.6 L762.8,1121.1 L743.8,1124.4 L724.8,1127.4 L705.7,1130.1 L686.4,1132.5 L667.3,1134.7 Z" fill="#a41424"/><path d="M667.3,1134.7 L686.4,1132.5 L705.7,1130.1 L724.8,1127.4 L743.8,1124.4 L762.8,1121.1 L781.7,1117.6 L800.4,1113.8 L819.1,1109.8 L837.7,1105.5 L856.2,1101.0 L874.7,1096.3 L893.0,1091.3 L911.3,1086.1 L929.4,1080.7 L947.5,1075.0 L965.5,1069.2 L983.4,1063.2 L1001.3,1057.0 L1019.0,1050.6 L1036.7,1044.0 L1054.3,1037.3 L1071.8,1030.4 L1089.2,1023.3 L1106.6,1016.0 L1123.8,1008.7 L1141.0,1001.1 L1158.1,993.5 L1175.2,985.7 L1192.1,977.8 L1209.0,969.7 L1225.9,961.5 L1242.6,953.3 L1259.3,944.9 L1275.9,936.4 L1292.4,927.9 L1308.9,919.2 L1325.3,910.5 L1341.6,901.6 L1357.9,892.8 L1374.1,883.8 L1390.3,874.7 L1406.4,865.4 L1422.3,855.8 L1438.2,846.0 L1454.0,835.9 L1469.7,825.5 L1485.2,814.9 L1500.5,804.0 L1515.7,792.8 L1530.7,781.3 L1545.6,769.5 L1560.2,757.4 L1574.6,745.0 L1588.8,732.3 L1602.7,719.2 L1616.4,705.9 L1629.8,692.2 L1642.9,678.2 L1655.7,663.8 L1668.2,649.2 L1681.4,633.4 L1694.5,613.8 L1704.7,595.1 L1713.4,576.2 L1720.8,557.1 L1727.1,538.0 L1732.4,518.8 L1736.8,499.7 L1740.6,480.6 L1744.0,461.5 L1747.0,442.5 L1749.9,423.6 L1752.8,404.7 L1755.8,386.0 L1758.9,367.3 L1761.7,348.6 L1764.4,330.0 L1767.0,311.6 L1769.5,293.3 L1772.1,275.2 L1774.8,257.4 L1777.9,237.6 L1776.6,39.7 L1775.6,-2.4 L1777.4,-2.4 L1778.4,39.7 L1779.6,237.6 L1776.5,257.7 L1773.8,275.5 L1771.3,293.5 L1768.7,311.8 L1766.1,330.3 L1763.4,348.8 L1760.6,367.5 L1757.5,386.3 L1754.6,405.1 L1751.8,424.0 L1749.0,443.0 L1746.2,462.1 L1743.0,481.3 L1739.4,500.6 L1735.2,520.0 L1730.1,539.4 L1724.1,558.8 L1716.8,578.3 L1708.2,597.6 L1698.1,616.7 L1685.0,636.9 L1671.8,653.0 L1659.4,667.9 L1646.6,682.5 L1633.6,696.7 L1620.3,710.7 L1606.6,724.3 L1592.8,737.5 L1578.6,750.5 L1564.2,763.1 L1549.6,775.4 L1534.8,787.4 L1519.8,799.0 L1504.6,810.3 L1489.2,821.4 L1473.7,832.1 L1458.0,842.6 L1442.2,852.7 L1426.3,862.6 L1410.3,872.3 L1394.2,881.7 L1378.0,890.8 L1361.7,899.8 L1345.4,908.7 L1329.1,917.5 L1312.6,926.3 L1296.1,934.9 L1279.5,943.5 L1262.9,952.0 L1246.2,960.4 L1229.4,968.7 L1212.5,976.9 L1195.6,985.0 L1178.5,992.9 L1161.4,1000.8 L1144.3,1008.5 L1127.0,1016.0 L1109.7,1023.4 L1092.2,1030.7 L1074.8,1037.8 L1057.2,1044.7 L1039.5,1051.5 L1021.8,1058.1 L1003.9,1064.5 L986.0,1070.8 L968.0,1076.8 L949.9,1082.7 L931.8,1088.3 L913.5,1093.8 L895.2,1099.0 L876.7,1104.0 L858.2,1108.8 L839.6,1113.3 L820.9,1117.6 L802.1,1121.7 L783.2,1125.5 L764.2,1129.0 L745.1,1132.3 L726.0,1135.3 L706.7,1138.0 L687.4,1140.5 L668.2,1142.6 Z" fill="#a81525"/><path d="M668.2,1142.6 L687.4,1140.5 L706.7,1138.0 L726.0,1135.3 L745.1,1132.3 L764.2,1129.0 L783.2,1125.5 L802.1,1121.7 L820.9,1117.6 L839.6,1113.3 L858.2,1108.8 L876.7,1104.0 L895.2,1099.0 L913.5,1093.8 L931.8,1088.3 L949.9,1082.7 L968.0,1076.8 L986.0,1070.8 L1003.9,1064.5 L1021.8,1058.1 L1039.5,1051.5 L1057.2,1044.7 L1074.8,1037.8 L1092.2,1030.7 L1109.7,1023.4 L1127.0,1016.0 L1144.3,1008.5 L1161.4,1000.8 L1178.5,992.9 L1195.6,985.0 L1212.5,976.9 L1229.4,968.7 L1246.2,960.4 L1262.9,952.0 L1279.5,943.5 L1296.1,934.9 L1312.6,926.3 L1329.1,917.5 L1345.4,908.7 L1361.7,899.8 L1378.0,890.8 L1394.2,881.7 L1410.3,872.3 L1426.3,862.6 L1442.2,852.7 L1458.0,842.6 L1473.7,832.1 L1489.2,821.4 L1504.6,810.3 L1519.8,799.0 L1534.8,787.4 L1549.6,775.4 L1564.2,763.1 L1578.6,750.5 L1592.8,737.5 L1606.6,724.3 L1620.3,710.7 L1633.6,696.7 L1646.6,682.5 L1659.4,667.9 L1671.8,653.0 L1685.0,636.9 L1698.1,616.7 L1708.2,597.6 L1716.8,578.3 L1724.1,558.8 L1730.1,539.4 L1735.2,520.0 L1739.4,500.6 L1743.0,481.3 L1746.2,462.1 L1749.0,443.0 L1751.8,424.0 L1754.6,405.1 L1757.5,386.3 L1760.6,367.5 L1763.4,348.8 L1766.1,330.3 L1768.7,311.8 L1771.3,293.5 L1773.8,275.5 L1776.5,257.7 L1779.6,237.6 L1778.4,39.7 L1777.4,-2.4 L1779.2,-2.5 L1780.2,39.7 L1781.4,237.7 L1778.3,258.0 L1775.6,275.7 L1773.0,293.8 L1770.5,312.0 L1767.9,330.5 L1765.2,349.1 L1762.3,367.8 L1759.3,386.6 L1756.3,405.4 L1753.6,424.4 L1751.0,443.5 L1748.3,462.7 L1745.4,482.0 L1742.0,501.5 L1738.0,521.1 L1733.2,540.8 L1727.3,560.6 L1720.2,580.3 L1711.8,600.0 L1701.7,619.5 L1688.5,640.3 L1675.3,656.8 L1663.0,671.9 L1650.4,686.8 L1637.4,701.3 L1624.1,715.5 L1610.6,729.3 L1596.7,742.8 L1582.6,756.0 L1568.3,768.8 L1553.7,781.2 L1538.9,793.4 L1523.9,805.2 L1508.7,816.7 L1493.3,827.9 L1477.8,838.7 L1462.1,849.3 L1446.3,859.5 L1430.3,869.5 L1414.3,879.2 L1398.1,888.6 L1381.9,897.8 L1365.6,906.8 L1349.3,915.7 L1332.9,924.6 L1316.4,933.3 L1299.8,942.0 L1283.2,950.7 L1266.5,959.2 L1249.7,967.6 L1232.9,975.9 L1216.0,984.1 L1199.0,992.2 L1181.9,1000.2 L1164.7,1008.1 L1147.5,1015.8 L1130.2,1023.4 L1112.8,1030.8 L1095.3,1038.1 L1077.7,1045.2 L1060.1,1052.2 L1042.3,1059.0 L1024.5,1065.6 L1006.6,1072.1 L988.6,1078.3 L970.5,1084.4 L952.4,1090.3 L934.1,1096.0 L915.7,1101.4 L897.3,1106.7 L878.8,1111.7 L860.1,1116.5 L841.4,1121.1 L822.6,1125.4 L803.7,1129.5 L784.7,1133.3 L765.6,1136.9 L746.4,1140.2 L727.2,1143.2 L707.8,1146.0 L688.3,1148.4 L669.0,1150.6 Z" fill="#ab1626"/><path d="M669.0,1150.6 L688.3,1148.4 L707.8,1146.0 L727.2,1143.2 L746.4,1140.2 L765.6,1136.9 L784.7,1133.3 L803.7,1129.5 L822.6,1125.4 L841.4,1121.1 L860.1,1116.5 L878.8,1111.7 L897.3,1106.7 L915.7,1101.4 L934.1,1096.0 L952.4,1090.3 L970.5,1084.4 L988.6,1078.3 L1006.6,1072.1 L1024.5,1065.6 L1042.3,1059.0 L1060.1,1052.2 L1077.7,1045.2 L1095.3,1038.1 L1112.8,1030.8 L1130.2,1023.4 L1147.5,1015.8 L1164.7,1008.1 L1181.9,1000.2 L1199.0,992.2 L1216.0,984.1 L1232.9,975.9 L1249.7,967.6 L1266.5,959.2 L1283.2,950.7 L1299.8,942.0 L1316.4,933.3 L1332.9,924.6 L1349.3,915.7 L1365.6,906.8 L1381.9,897.8 L1398.1,888.6 L1414.3,879.2 L1430.3,869.5 L1446.3,859.5 L1462.1,849.3 L1477.8,838.7 L1493.3,827.9 L1508.7,816.7 L1523.9,805.2 L1538.9,793.4 L1553.7,781.2 L1568.3,768.8 L1582.6,756.0 L1596.7,742.8 L1610.6,729.3 L1624.1,715.5 L1637.4,701.3 L1650.4,686.8 L1663.0,671.9 L1675.3,656.8 L1688.5,640.3 L1701.7,619.5 L1711.8,600.0 L1720.2,580.3 L1727.3,560.6 L1733.2,540.8 L1738.0,521.1 L1742.0,501.5 L1745.4,482.0 L1748.3,462.7 L1751.0,443.5 L1753.6,424.4 L1756.3,405.4 L1759.3,386.6 L1762.3,367.8 L1765.2,349.1 L1767.9,330.5 L1770.5,312.0 L1773.0,293.8 L1775.6,275.7 L1778.3,258.0 L1781.4,237.7 L1780.2,39.7 L1779.2,-2.5 L1780.9,-2.5 L1781.9,39.6 L1783.1,237.7 L1780.0,258.2 L1777.3,276.0 L1774.7,294.0 L1772.2,312.3 L1769.6,330.8 L1766.9,349.4 L1764.1,368.1 L1761.0,386.9 L1758.1,405.7 L1755.5,424.8 L1753.0,444.0 L1750.5,463.3 L1747.8,482.8 L1744.6,502.4 L1740.8,522.2 L1736.2,542.2 L1730.6,562.3 L1723.7,582.4 L1715.3,602.5 L1705.4,622.4 L1692.0,643.7 L1678.9,660.6 L1666.7,676.0 L1654.1,691.1 L1641.2,705.8 L1628.0,720.3 L1614.5,734.3 L1600.7,748.1 L1586.7,761.4 L1572.3,774.4 L1557.8,787.1 L1543.0,799.4 L1528.0,811.4 L1512.7,823.0 L1497.4,834.3 L1481.8,845.3 L1466.1,856.0 L1450.3,866.3 L1434.3,876.4 L1418.2,886.1 L1402.0,895.6 L1385.8,904.8 L1369.5,913.8 L1353.1,922.7 L1336.6,931.6 L1320.1,940.4 L1303.5,949.1 L1286.9,957.8 L1270.1,966.3 L1253.3,974.8 L1236.4,983.1 L1219.4,991.3 L1202.4,999.5 L1185.2,1007.5 L1168.0,1015.3 L1150.7,1023.1 L1133.4,1030.7 L1115.9,1038.2 L1098.3,1045.5 L1080.7,1052.6 L1063.0,1059.6 L1045.2,1066.5 L1027.3,1073.1 L1009.3,1079.6 L991.2,1085.9 L973.0,1092.0 L954.8,1097.9 L936.4,1103.6 L918.0,1109.1 L899.4,1114.4 L880.8,1119.5 L862.1,1124.3 L843.3,1128.9 L824.3,1133.2 L805.3,1137.3 L786.2,1141.2 L767.0,1144.8 L747.7,1148.1 L728.3,1151.1 L708.9,1153.9 L689.3,1156.4 L669.9,1158.5 Z" fill="#af1728"/><path d="M669.9,1158.5 L689.3,1156.4 L708.9,1153.9 L728.3,1151.1 L747.7,1148.1 L767.0,1144.8 L786.2,1141.2 L805.3,1137.3 L824.3,1133.2 L843.3,1128.9 L862.1,1124.3 L880.8,1119.5 L899.4,1114.4 L918.0,1109.1 L936.4,1103.6 L954.8,1097.9 L973.0,1092.0 L991.2,1085.9 L1009.3,1079.6 L1027.3,1073.1 L1045.2,1066.5 L1063.0,1059.6 L1080.7,1052.6 L1098.3,1045.5 L1115.9,1038.2 L1133.4,1030.7 L1150.7,1023.1 L1168.0,1015.3 L1185.2,1007.5 L1202.4,999.5 L1219.4,991.3 L1236.4,983.1 L1253.3,974.8 L1270.1,966.3 L1286.9,957.8 L1303.5,949.1 L1320.1,940.4 L1336.6,931.6 L1353.1,922.7 L1369.5,913.8 L1385.8,904.8 L1402.0,895.6 L1418.2,886.1 L1434.3,876.4 L1450.3,866.3 L1466.1,856.0 L1481.8,845.3 L1497.4,834.3 L1512.7,823.0 L1528.0,811.4 L1543.0,799.4 L1557.8,787.1 L1572.3,774.4 L1586.7,761.4 L1600.7,748.1 L1614.5,734.3 L1628.0,720.3 L1641.2,705.8 L1654.1,691.1 L1666.7,676.0 L1678.9,660.6 L1692.0,643.7 L1705.4,622.4 L1715.3,602.5 L1723.7,582.4 L1730.6,562.3 L1736.2,542.2 L1740.8,522.2 L1744.6,502.4 L1747.8,482.8 L1750.5,463.3 L1753.0,444.0 L1755.5,424.8 L1758.1,405.7 L1761.0,386.9 L1764.1,368.1 L1766.9,349.4 L1769.6,330.8 L1772.2,312.3 L1774.7,294.0 L1777.3,276.0 L1780.0,258.2 L1783.1,237.7 L1781.9,39.6 L1780.9,-2.5 L1782.7,-2.5 L1783.7,39.6 L1784.9,237.7 L1781.7,258.5 L1779.1,276.2 L1776.5,294.3 L1773.9,312.5 L1771.4,331.0 L1768.7,349.6 L1765.8,368.3 L1762.7,387.2 L1759.9,406.1 L1757.4,425.2 L1755.0,444.4 L1752.7,463.9 L1750.2,483.5 L1747.2,503.4 L1743.7,523.4 L1739.3,543.6 L1733.8,564.0 L1727.1,584.4 L1718.9,604.9 L1709.0,625.2 L1695.6,647.2 L1682.4,664.4 L1670.3,680.1 L1657.8,695.4 L1645.0,710.4 L1631.9,725.1 L1618.5,739.4 L1604.7,753.3 L1590.7,766.9 L1576.4,780.1 L1561.8,793.0 L1547.0,805.5 L1532.0,817.6 L1516.8,829.4 L1501.4,840.8 L1485.9,851.9 L1470.1,862.7 L1454.3,873.1 L1438.3,883.2 L1422.2,893.0 L1406.0,902.6 L1389.7,911.8 L1373.3,920.8 L1356.9,929.8 L1340.4,938.7 L1323.9,947.5 L1307.2,956.2 L1290.5,964.9 L1273.7,973.4 L1256.9,981.9 L1239.9,990.3 L1222.9,998.5 L1205.8,1006.7 L1188.6,1014.7 L1171.3,1022.6 L1154.0,1030.4 L1136.5,1038.0 L1119.0,1045.5 L1101.4,1052.9 L1083.7,1060.1 L1065.9,1067.1 L1048.0,1074.0 L1030.0,1080.6 L1012.0,1087.2 L993.8,1093.5 L975.5,1099.6 L957.2,1105.5 L938.7,1111.3 L920.2,1116.8 L901.6,1122.1 L882.9,1127.2 L864.0,1132.0 L845.1,1136.7 L826.1,1141.0 L807.0,1145.2 L787.8,1149.0 L768.4,1152.6 L749.0,1156.0 L729.5,1159.0 L709.9,1161.8 L690.2,1164.3 L670.7,1166.5 Z" fill="#b31829"/><path d="M670.7,1166.5 L690.2,1164.3 L709.9,1161.8 L729.5,1159.0 L749.0,1156.0 L768.4,1152.6 L787.8,1149.0 L807.0,1145.2 L826.1,1141.0 L845.1,1136.7 L864.0,1132.0 L882.9,1127.2 L901.6,1122.1 L920.2,1116.8 L938.7,1111.3 L957.2,1105.5 L975.5,1099.6 L993.8,1093.5 L1012.0,1087.2 L1030.0,1080.6 L1048.0,1074.0 L1065.9,1067.1 L1083.7,1060.1 L1101.4,1052.9 L1119.0,1045.5 L1136.5,1038.0 L1154.0,1030.4 L1171.3,1022.6 L1188.6,1014.7 L1205.8,1006.7 L1222.9,998.5 L1239.9,990.3 L1256.9,981.9 L1273.7,973.4 L1290.5,964.9 L1307.2,956.2 L1323.9,947.5 L1340.4,938.7 L1356.9,929.8 L1373.3,920.8 L1389.7,911.8 L1406.0,902.6 L1422.2,893.0 L1438.3,883.2 L1454.3,873.1 L1470.1,862.7 L1485.9,851.9 L1501.4,840.8 L1516.8,829.4 L1532.0,817.6 L1547.0,805.5 L1561.8,793.0 L1576.4,780.1 L1590.7,766.9 L1604.7,753.3 L1618.5,739.4 L1631.9,725.1 L1645.0,710.4 L1657.8,695.4 L1670.3,680.1 L1682.4,664.4 L1695.6,647.2 L1709.0,625.2 L1718.9,604.9 L1727.1,584.4 L1733.8,564.0 L1739.3,543.6 L1743.7,523.4 L1747.2,503.4 L1750.2,483.5 L1752.7,463.9 L1755.0,444.4 L1757.4,425.2 L1759.9,406.1 L1762.7,387.2 L1765.8,368.3 L1768.7,349.6 L1771.4,331.0 L1773.9,312.5 L1776.5,294.3 L1779.1,276.2 L1781.7,258.5 L1784.9,237.7 L1783.7,39.6 L1782.7,-2.5 L1784.4,-2.6 L1785.4,39.6 L1786.7,237.8 L1783.5,258.8 L1780.8,276.5 L1778.2,294.5 L1775.7,312.8 L1773.1,331.2 L1770.4,349.9 L1767.6,368.6 L1764.5,387.5 L1761.6,406.4 L1759.2,425.6 L1757.0,444.9 L1754.9,464.5 L1752.5,484.3 L1749.8,504.3 L1746.5,524.5 L1742.3,545.0 L1737.1,565.7 L1730.5,586.5 L1722.4,607.3 L1712.6,628.1 L1699.1,650.6 L1686.0,668.2 L1674.0,684.1 L1661.6,699.7 L1648.9,715.0 L1635.8,729.9 L1622.4,744.4 L1608.7,758.6 L1594.7,772.4 L1580.4,785.8 L1565.9,798.8 L1551.1,811.5 L1536.1,823.8 L1520.9,835.7 L1505.5,847.3 L1489.9,858.5 L1474.2,869.4 L1458.3,879.9 L1442.3,890.1 L1426.1,900.0 L1409.9,909.5 L1393.5,918.8 L1377.2,927.8 L1360.7,936.8 L1344.2,945.7 L1327.6,954.6 L1310.9,963.3 L1294.2,972.0 L1277.4,980.6 L1260.4,989.1 L1243.4,997.5 L1226.4,1005.8 L1209.2,1013.9 L1192.0,1022.0 L1174.6,1029.9 L1157.2,1037.7 L1139.7,1045.4 L1122.1,1052.9 L1104.4,1060.3 L1086.6,1067.5 L1068.8,1074.5 L1050.8,1081.4 L1032.8,1088.2 L1014.6,1094.7 L996.4,1101.0 L978.0,1107.2 L959.6,1113.2 L941.1,1118.9 L922.5,1124.5 L903.7,1129.8 L884.9,1134.9 L866.0,1139.8 L846.9,1144.4 L827.8,1148.8 L808.6,1153.0 L789.3,1156.9 L769.9,1160.5 L750.3,1163.9 L730.7,1166.9 L711.0,1169.7 L691.2,1172.3 L671.5,1174.4 Z" fill="#b6192a"/><path d="M671.5,1174.4 L691.2,1172.3 L711.0,1169.7 L730.7,1166.9 L750.3,1163.9 L769.9,1160.5 L789.3,1156.9 L808.6,1153.0 L827.8,1148.8 L846.9,1144.4 L866.0,1139.8 L884.9,1134.9 L903.7,1129.8 L922.5,1124.5 L941.1,1118.9 L959.6,1113.2 L978.0,1107.2 L996.4,1101.0 L1014.6,1094.7 L1032.8,1088.2 L1050.8,1081.4 L1068.8,1074.5 L1086.6,1067.5 L1104.4,1060.3 L1122.1,1052.9 L1139.7,1045.4 L1157.2,1037.7 L1174.6,1029.9 L1192.0,1022.0 L1209.2,1013.9 L1226.4,1005.8 L1243.4,997.5 L1260.4,989.1 L1277.4,980.6 L1294.2,972.0 L1310.9,963.3 L1327.6,954.6 L1344.2,945.7 L1360.7,936.8 L1377.2,927.8 L1393.5,918.8 L1409.9,909.5 L1426.1,900.0 L1442.3,890.1 L1458.3,879.9 L1474.2,869.4 L1489.9,858.5 L1505.5,847.3 L1520.9,835.7 L1536.1,823.8 L1551.1,811.5 L1565.9,798.8 L1580.4,785.8 L1594.7,772.4 L1608.7,758.6 L1622.4,744.4 L1635.8,729.9 L1648.9,715.0 L1661.6,699.7 L1674.0,684.1 L1686.0,668.2 L1699.1,650.6 L1712.6,628.1 L1722.4,607.3 L1730.5,586.5 L1737.1,565.7 L1742.3,545.0 L1746.5,524.5 L1749.8,504.3 L1752.5,484.3 L1754.9,464.5 L1757.0,444.9 L1759.2,425.6 L1761.6,406.4 L1764.5,387.5 L1767.6,368.6 L1770.4,349.9 L1773.1,331.2 L1775.7,312.8 L1778.2,294.5 L1780.8,276.5 L1783.5,258.8 L1786.7,237.8 L1785.4,39.6 L1784.4,-2.6 L1786.2,-2.6 L1787.2,39.6 L1788.4,237.8 L1785.2,259.0 L1782.5,276.7 L1780.0,294.8 L1777.4,313.0 L1774.8,331.5 L1772.2,350.1 L1769.3,368.9 L1766.2,387.7 L1763.4,406.8 L1761.1,426.0 L1759.0,445.4 L1757.1,465.1 L1754.9,485.0 L1752.4,505.2 L1749.3,525.7 L1745.4,546.4 L1740.3,567.4 L1733.9,588.5 L1726.0,609.8 L1716.3,631.0 L1702.6,654.1 L1689.5,672.0 L1677.6,688.2 L1665.3,704.0 L1652.7,719.5 L1639.7,734.7 L1626.3,749.4 L1612.7,763.8 L1598.7,777.8 L1584.5,791.4 L1570.0,804.7 L1555.2,817.5 L1540.2,830.0 L1525.0,842.1 L1509.6,853.8 L1494.0,865.1 L1478.2,876.1 L1462.3,886.7 L1446.2,897.0 L1430.1,906.9 L1413.8,916.5 L1397.4,925.7 L1381.0,934.8 L1364.5,943.8 L1348.0,952.8 L1331.4,961.6 L1314.6,970.4 L1297.8,979.1 L1281.0,987.7 L1264.0,996.2 L1247.0,1004.7 L1229.8,1013.0 L1212.6,1021.2 L1195.3,1029.2 L1177.9,1037.2 L1160.5,1045.0 L1142.9,1052.7 L1125.2,1060.3 L1107.5,1067.7 L1089.6,1074.9 L1071.7,1082.0 L1053.7,1088.9 L1035.5,1095.7 L1017.3,1102.2 L999.0,1108.6 L980.5,1114.8 L962.0,1120.8 L943.4,1126.6 L924.7,1132.2 L905.9,1137.5 L886.9,1142.7 L867.9,1147.6 L848.8,1152.2 L829.6,1156.6 L810.2,1160.8 L790.8,1164.7 L771.3,1168.4 L751.6,1171.8 L731.9,1174.9 L712.1,1177.7 L692.1,1180.2 L672.4,1182.4 Z" fill="#b91a2b"/><path d="M672.4,1182.4 L692.1,1180.2 L712.1,1177.7 L731.9,1174.9 L751.6,1171.8 L771.3,1168.4 L790.8,1164.7 L810.2,1160.8 L829.6,1156.6 L848.8,1152.2 L867.9,1147.6 L886.9,1142.7 L905.9,1137.5 L924.7,1132.2 L943.4,1126.6 L962.0,1120.8 L980.5,1114.8 L999.0,1108.6 L1017.3,1102.2 L1035.5,1095.7 L1053.7,1088.9 L1071.7,1082.0 L1089.6,1074.9 L1107.5,1067.7 L1125.2,1060.3 L1142.9,1052.7 L1160.5,1045.0 L1177.9,1037.2 L1195.3,1029.2 L1212.6,1021.2 L1229.8,1013.0 L1247.0,1004.7 L1264.0,996.2 L1281.0,987.7 L1297.8,979.1 L1314.6,970.4 L1331.4,961.6 L1348.0,952.8 L1364.5,943.8 L1381.0,934.8 L1397.4,925.7 L1413.8,916.5 L1430.1,906.9 L1446.2,897.0 L1462.3,886.7 L1478.2,876.1 L1494.0,865.1 L1509.6,853.8 L1525.0,842.1 L1540.2,830.0 L1555.2,817.5 L1570.0,804.7 L1584.5,791.4 L1598.7,777.8 L1612.7,763.8 L1626.3,749.4 L1639.7,734.7 L1652.7,719.5 L1665.3,704.0 L1677.6,688.2 L1689.5,672.0 L1702.6,654.1 L1716.3,631.0 L1726.0,609.8 L1733.9,588.5 L1740.3,567.4 L1745.4,546.4 L1749.3,525.7 L1752.4,505.2 L1754.9,485.0 L1757.1,465.1 L1759.0,445.4 L1761.1,426.0 L1763.4,406.8 L1766.2,387.7 L1769.3,368.9 L1772.2,350.1 L1774.8,331.5 L1777.4,313.0 L1780.0,294.8 L1782.5,276.7 L1785.2,259.0 L1788.4,237.8 L1787.2,39.6 L1786.2,-2.6 L1788.0,-2.7 L1789.0,39.5 L1790.2,237.9 L1787.0,259.3 L1784.3,277.0 L1781.7,295.0 L1779.2,313.3 L1776.6,331.7 L1773.9,350.4 L1771.0,369.2 L1767.9,388.0 L1765.2,407.1 L1763.0,426.4 L1761.0,445.9 L1759.2,465.7 L1757.3,485.7 L1755.0,506.1 L1752.1,526.8 L1748.4,547.8 L1743.5,569.1 L1737.3,590.6 L1729.5,612.2 L1719.9,633.8 L1706.2,657.5 L1693.1,675.8 L1681.3,692.2 L1669.1,708.3 L1656.5,724.1 L1643.6,739.5 L1630.3,754.5 L1616.7,769.1 L1602.8,783.3 L1588.5,797.1 L1574.0,810.5 L1559.3,823.6 L1544.3,836.2 L1529.0,848.4 L1513.6,860.2 L1498.0,871.7 L1482.2,882.8 L1466.3,893.5 L1450.2,903.8 L1434.0,913.8 L1417.7,923.4 L1401.3,932.7 L1384.9,941.8 L1368.4,950.9 L1351.8,959.8 L1335.1,968.7 L1318.3,977.5 L1301.5,986.2 L1284.6,994.9 L1267.6,1003.4 L1250.5,1011.8 L1233.3,1020.2 L1216.0,1028.4 L1198.7,1036.5 L1181.2,1044.5 L1163.7,1052.3 L1146.1,1060.1 L1128.3,1067.6 L1110.5,1075.1 L1092.6,1082.3 L1074.6,1089.5 L1056.5,1096.4 L1038.3,1103.2 L1020.0,1109.8 L1001.6,1116.2 L983.1,1122.4 L964.4,1128.4 L945.7,1134.2 L926.9,1139.8 L908.0,1145.2 L889.0,1150.4 L869.9,1155.3 L850.6,1160.0 L831.3,1164.5 L811.9,1168.6 L792.3,1172.6 L772.7,1176.3 L752.9,1179.7 L733.1,1182.8 L713.1,1185.6 L693.1,1188.1 L673.2,1190.3 Z" fill="#bc1b2c"/><path d="M673.2,1190.3 L693.1,1188.1 L713.1,1185.6 L733.1,1182.8 L752.9,1179.7 L772.7,1176.3 L792.3,1172.6 L811.9,1168.6 L831.3,1164.5 L850.6,1160.0 L869.9,1155.3 L889.0,1150.4 L908.0,1145.2 L926.9,1139.8 L945.7,1134.2 L964.4,1128.4 L983.1,1122.4 L1001.6,1116.2 L1020.0,1109.8 L1038.3,1103.2 L1056.5,1096.4 L1074.6,1089.5 L1092.6,1082.3 L1110.5,1075.1 L1128.3,1067.6 L1146.1,1060.1 L1163.7,1052.3 L1181.2,1044.5 L1198.7,1036.5 L1216.0,1028.4 L1233.3,1020.2 L1250.5,1011.8 L1267.6,1003.4 L1284.6,994.9 L1301.5,986.2 L1318.3,977.5 L1335.1,968.7 L1351.8,959.8 L1368.4,950.9 L1384.9,941.8 L1401.3,932.7 L1417.7,923.4 L1434.0,913.8 L1450.2,903.8 L1466.3,893.5 L1482.2,882.8 L1498.0,871.7 L1513.6,860.2 L1529.0,848.4 L1544.3,836.2 L1559.3,823.6 L1574.0,810.5 L1588.5,797.1 L1602.8,783.3 L1616.7,769.1 L1630.3,754.5 L1643.6,739.5 L1656.5,724.1 L1669.1,708.3 L1681.3,692.2 L1693.1,675.8 L1706.2,657.5 L1719.9,633.8 L1729.5,612.2 L1737.3,590.6 L1743.5,569.1 L1748.4,547.8 L1752.1,526.8 L1755.0,506.1 L1757.3,485.7 L1759.2,465.7 L1761.0,445.9 L1763.0,426.4 L1765.2,407.1 L1767.9,388.0 L1771.0,369.2 L1773.9,350.4 L1776.6,331.7 L1779.2,313.3 L1781.7,295.0 L1784.3,277.0 L1787.0,259.3 L1790.2,237.9 L1789.0,39.5 L1788.0,-2.7 L1789.7,-2.7 L1790.7,39.5 L1791.9,237.9 L1788.7,259.6 L1786.0,277.3 L1783.5,295.2 L1780.9,313.5 L1778.3,332.0 L1775.6,350.6 L1772.8,369.4 L1769.7,388.3 L1767.0,407.4 L1764.8,426.8 L1763.0,446.4 L1761.4,466.3 L1759.7,486.5 L1757.6,507.0 L1755.0,528.0 L1751.4,549.2 L1746.8,570.8 L1740.8,592.7 L1733.1,614.7 L1723.6,636.7 L1709.7,660.9 L1696.6,679.6 L1684.9,696.3 L1672.8,712.6 L1660.3,728.7 L1647.5,744.3 L1634.2,759.5 L1620.7,774.3 L1606.8,788.8 L1592.6,802.8 L1578.1,816.4 L1563.3,829.6 L1548.3,842.4 L1533.1,854.8 L1517.7,866.7 L1502.1,878.3 L1486.3,889.5 L1470.3,900.3 L1454.2,910.7 L1438.0,920.7 L1421.6,930.4 L1405.2,939.7 L1388.7,948.8 L1372.2,957.9 L1355.5,966.9 L1338.8,975.8 L1322.0,984.6 L1305.2,993.3 L1288.2,1002.0 L1271.1,1010.6 L1254.0,1019.0 L1236.8,1027.4 L1219.4,1035.6 L1202.0,1043.8 L1184.5,1051.8 L1166.9,1059.7 L1149.2,1067.4 L1131.4,1075.0 L1113.6,1082.5 L1095.6,1089.8 L1077.5,1096.9 L1059.3,1103.9 L1041.0,1110.7 L1022.6,1117.3 L1004.2,1123.8 L985.6,1130.0 L966.9,1136.0 L948.1,1141.9 L929.2,1147.5 L910.2,1152.9 L891.0,1158.1 L871.8,1163.1 L852.5,1167.8 L833.0,1172.3 L813.5,1176.5 L793.9,1180.4 L774.1,1184.1 L754.2,1187.5 L734.3,1190.7 L714.2,1193.5 L694.0,1196.1 L674.1,1198.3 Z" fill="#be1b2d"/><path d="M674.1,1198.3 L694.0,1196.1 L714.2,1193.5 L734.3,1190.7 L754.2,1187.5 L774.1,1184.1 L793.9,1180.4 L813.5,1176.5 L833.0,1172.3 L852.5,1167.8 L871.8,1163.1 L891.0,1158.1 L910.2,1152.9 L929.2,1147.5 L948.1,1141.9 L966.9,1136.0 L985.6,1130.0 L1004.2,1123.8 L1022.6,1117.3 L1041.0,1110.7 L1059.3,1103.9 L1077.5,1096.9 L1095.6,1089.8 L1113.6,1082.5 L1131.4,1075.0 L1149.2,1067.4 L1166.9,1059.7 L1184.5,1051.8 L1202.0,1043.8 L1219.4,1035.6 L1236.8,1027.4 L1254.0,1019.0 L1271.1,1010.6 L1288.2,1002.0 L1305.2,993.3 L1322.0,984.6 L1338.8,975.8 L1355.5,966.9 L1372.2,957.9 L1388.7,948.8 L1405.2,939.7 L1421.6,930.4 L1438.0,920.7 L1454.2,910.7 L1470.3,900.3 L1486.3,889.5 L1502.1,878.3 L1517.7,866.7 L1533.1,854.8 L1548.3,842.4 L1563.3,829.6 L1578.1,816.4 L1592.6,802.8 L1606.8,788.8 L1620.7,774.3 L1634.2,759.5 L1647.5,744.3 L1660.3,728.7 L1672.8,712.6 L1684.9,696.3 L1696.6,679.6 L1709.7,660.9 L1723.6,636.7 L1733.1,614.7 L1740.8,592.7 L1746.8,570.8 L1751.4,549.2 L1755.0,528.0 L1757.6,507.0 L1759.7,486.5 L1761.4,466.3 L1763.0,446.4 L1764.8,426.8 L1767.0,407.4 L1769.7,388.3 L1772.8,369.4 L1775.6,350.6 L1778.3,332.0 L1780.9,313.5 L1783.5,295.2 L1786.0,277.3 L1788.7,259.6 L1791.9,237.9 L1790.7,39.5 L1789.7,-2.7 L1791.5,-2.8 L1792.5,39.5 L1793.7,237.9 L1790.4,259.9 L1787.8,277.5 L1785.2,295.5 L1782.7,313.7 L1780.1,332.2 L1777.4,350.9 L1774.5,369.7 L1771.4,388.6 L1768.7,407.8 L1766.7,427.2 L1765.0,446.9 L1763.6,466.9 L1762.1,487.2 L1760.2,508.0 L1757.8,529.1 L1754.5,550.6 L1750.0,572.5 L1744.2,594.7 L1736.6,617.1 L1727.2,639.5 L1713.2,664.4 L1700.2,683.4 L1688.6,700.3 L1676.5,717.0 L1664.1,733.2 L1651.3,749.1 L1638.2,764.5 L1624.7,779.6 L1610.8,794.2 L1596.6,808.5 L1582.2,822.3 L1567.4,835.6 L1552.4,848.6 L1537.2,861.1 L1521.8,873.2 L1506.1,884.9 L1490.3,896.2 L1474.3,907.1 L1458.2,917.6 L1441.9,927.7 L1425.6,937.4 L1409.1,946.7 L1392.6,955.9 L1376.0,964.9 L1359.3,973.9 L1342.6,982.8 L1325.7,991.7 L1308.8,1000.5 L1291.8,1009.1 L1274.7,1017.7 L1257.5,1026.2 L1240.2,1034.6 L1222.9,1042.9 L1205.4,1051.0 L1187.8,1059.1 L1170.2,1067.0 L1152.4,1074.7 L1134.6,1082.4 L1116.6,1089.9 L1098.5,1097.2 L1080.4,1104.4 L1062.1,1111.4 L1043.8,1118.2 L1025.3,1124.9 L1006.7,1131.3 L988.1,1137.6 L969.3,1143.7 L950.4,1149.5 L931.4,1155.2 L912.3,1160.6 L893.1,1165.9 L873.8,1170.8 L854.3,1175.6 L834.8,1180.1 L815.1,1184.3 L795.4,1188.3 L775.5,1192.0 L755.5,1195.4 L735.4,1198.6 L715.3,1201.5 L694.9,1204.0 L674.9,1206.3 Z" fill="#c11c2e"/><path d="M674.9,1206.3 L694.9,1204.0 L715.3,1201.5 L735.4,1198.6 L755.5,1195.4 L775.5,1192.0 L795.4,1188.3 L815.1,1184.3 L834.8,1180.1 L854.3,1175.6 L873.8,1170.8 L893.1,1165.9 L912.3,1160.6 L931.4,1155.2 L950.4,1149.5 L969.3,1143.7 L988.1,1137.6 L1006.7,1131.3 L1025.3,1124.9 L1043.8,1118.2 L1062.1,1111.4 L1080.4,1104.4 L1098.5,1097.2 L1116.6,1089.9 L1134.6,1082.4 L1152.4,1074.7 L1170.2,1067.0 L1187.8,1059.1 L1205.4,1051.0 L1222.9,1042.9 L1240.2,1034.6 L1257.5,1026.2 L1274.7,1017.7 L1291.8,1009.1 L1308.8,1000.5 L1325.7,991.7 L1342.6,982.8 L1359.3,973.9 L1376.0,964.9 L1392.6,955.9 L1409.1,946.7 L1425.6,937.4 L1441.9,927.7 L1458.2,917.6 L1474.3,907.1 L1490.3,896.2 L1506.1,884.9 L1521.8,873.2 L1537.2,861.1 L1552.4,848.6 L1567.4,835.6 L1582.2,822.3 L1596.6,808.5 L1610.8,794.2 L1624.7,779.6 L1638.2,764.5 L1651.3,749.1 L1664.1,733.2 L1676.5,717.0 L1688.6,700.3 L1700.2,683.4 L1713.2,664.4 L1727.2,639.5 L1736.6,617.1 L1744.2,594.7 L1750.0,572.5 L1754.5,550.6 L1757.8,529.1 L1760.2,508.0 L1762.1,487.2 L1763.6,466.9 L1765.0,446.9 L1766.7,427.2 L1768.7,407.8 L1771.4,388.6 L1774.5,369.7 L1777.4,350.9 L1780.1,332.2 L1782.7,313.7 L1785.2,295.5 L1787.8,277.5 L1790.4,259.9 L1793.7,237.9 L1792.5,39.5 L1791.5,-2.8 L1793.2,-2.8 L1794.2,39.4 L1795.5,238.0 L1792.2,260.1 L1789.5,277.8 L1786.9,295.7 L1784.4,314.0 L1781.8,332.5 L1779.1,351.2 L1776.2,370.0 L1773.1,388.9 L1770.5,408.1 L1768.5,427.6 L1767.0,447.3 L1765.8,467.5 L1764.4,488.0 L1762.8,508.9 L1760.6,530.2 L1757.5,552.0 L1753.3,574.2 L1747.6,596.8 L1740.2,619.6 L1730.8,642.4 L1716.8,667.8 L1703.7,687.2 L1692.2,704.4 L1680.3,721.3 L1668.0,737.8 L1655.2,753.9 L1642.1,769.6 L1628.6,784.9 L1614.8,799.7 L1600.7,814.1 L1586.2,828.1 L1571.5,841.7 L1556.5,854.8 L1541.3,867.4 L1525.8,879.7 L1510.2,891.5 L1494.3,902.9 L1478.3,913.9 L1462.2,924.4 L1445.9,934.6 L1429.5,944.3 L1413.0,953.7 L1396.4,962.9 L1379.8,971.9 L1363.1,981.0 L1346.3,989.9 L1329.4,998.8 L1312.5,1007.6 L1295.4,1016.3 L1278.3,1024.9 L1261.0,1033.4 L1243.7,1041.8 L1226.3,1050.1 L1208.7,1058.3 L1191.1,1066.4 L1173.4,1074.3 L1155.6,1082.1 L1137.7,1089.7 L1119.6,1097.3 L1101.5,1104.6 L1083.3,1111.8 L1065.0,1118.9 L1046.5,1125.7 L1028.0,1132.4 L1009.3,1138.9 L990.6,1145.2 L971.7,1151.3 L952.7,1157.2 L933.6,1162.9 L914.4,1168.3 L895.1,1173.6 L875.7,1178.6 L856.2,1183.4 L836.5,1187.9 L816.8,1192.1 L796.9,1196.1 L776.9,1199.9 L756.8,1203.3 L736.6,1206.5 L716.3,1209.4 L695.9,1212.0 L675.8,1214.2 Z" fill="#c31c2e"/><path d="M675.8,1214.2 L695.9,1212.0 L716.3,1209.4 L736.6,1206.5 L756.8,1203.3 L776.9,1199.9 L796.9,1196.1 L816.8,1192.1 L836.5,1187.9 L856.2,1183.4 L875.7,1178.6 L895.1,1173.6 L914.4,1168.3 L933.6,1162.9 L952.7,1157.2 L971.7,1151.3 L990.6,1145.2 L1009.3,1138.9 L1028.0,1132.4 L1046.5,1125.7 L1065.0,1118.9 L1083.3,1111.8 L1101.5,1104.6 L1119.6,1097.3 L1137.7,1089.7 L1155.6,1082.1 L1173.4,1074.3 L1191.1,1066.4 L1208.7,1058.3 L1226.3,1050.1 L1243.7,1041.8 L1261.0,1033.4 L1278.3,1024.9 L1295.4,1016.3 L1312.5,1007.6 L1329.4,998.8 L1346.3,989.9 L1363.1,981.0 L1379.8,971.9 L1396.4,962.9 L1413.0,953.7 L1429.5,944.3 L1445.9,934.6 L1462.2,924.4 L1478.3,913.9 L1494.3,902.9 L1510.2,891.5 L1525.8,879.7 L1541.3,867.4 L1556.5,854.8 L1571.5,841.7 L1586.2,828.1 L1600.7,814.1 L1614.8,799.7 L1628.6,784.9 L1642.1,769.6 L1655.2,753.9 L1668.0,737.8 L1680.3,721.3 L1692.2,704.4 L1703.7,687.2 L1716.8,667.8 L1730.8,642.4 L1740.2,619.6 L1747.6,596.8 L1753.3,574.2 L1757.5,552.0 L1760.6,530.2 L1762.8,508.9 L1764.4,488.0 L1765.8,467.5 L1767.0,447.3 L1768.5,427.6 L1770.5,408.1 L1773.1,388.9 L1776.2,370.0 L1779.1,351.2 L1781.8,332.5 L1784.4,314.0 L1786.9,295.7 L1789.5,277.8 L1792.2,260.1 L1795.5,238.0 L1794.2,39.4 L1793.2,-2.8 L1795.0,-2.8 L1796.0,39.4 L1797.2,238.0 L1793.9,260.4 L1791.3,278.0 L1788.7,296.0 L1786.1,314.2 L1783.6,332.7 L1780.9,351.4 L1778.0,370.3 L1774.9,389.2 L1772.3,408.4 L1770.4,428.0 L1769.0,447.8 L1767.9,468.1 L1766.8,488.7 L1765.4,509.8 L1763.4,531.4 L1760.6,553.4 L1756.5,575.9 L1751.0,598.8 L1743.8,622.0 L1734.5,645.3 L1720.3,671.3 L1707.3,691.0 L1695.9,708.5 L1684.0,725.6 L1671.8,742.3 L1659.1,758.7 L1646.1,774.6 L1632.6,790.1 L1618.8,805.2 L1604.7,819.8 L1590.3,834.0 L1575.6,847.7 L1560.6,861.0 L1545.3,873.8 L1529.9,886.2 L1514.2,898.1 L1498.4,909.6 L1482.3,920.7 L1466.2,931.3 L1449.9,941.5 L1433.4,951.3 L1416.9,960.7 L1400.3,969.9 L1383.6,979.0 L1366.9,988.0 L1350.1,997.0 L1333.1,1005.9 L1316.1,1014.7 L1299.0,1023.4 L1281.8,1032.0 L1264.6,1040.6 L1247.2,1049.0 L1229.7,1057.3 L1212.1,1065.6 L1194.4,1073.6 L1176.6,1081.6 L1158.8,1089.4 L1140.8,1097.1 L1122.7,1104.7 L1104.5,1112.0 L1086.2,1119.3 L1067.8,1126.3 L1049.3,1133.2 L1030.7,1139.9 L1011.9,1146.5 L993.1,1152.8 L974.1,1158.9 L955.1,1164.9 L935.9,1170.6 L916.6,1176.1 L897.2,1181.3 L877.7,1186.4 L858.0,1191.1 L838.3,1195.7 L818.4,1200.0 L798.4,1204.0 L778.3,1207.7 L758.1,1211.2 L737.8,1214.4 L717.4,1217.3 L696.8,1219.9 L676.6,1222.2 Z" fill="#c51d2f"/><path d="M676.6,1222.2 L696.8,1219.9 L717.4,1217.3 L737.8,1214.4 L758.1,1211.2 L778.3,1207.7 L798.4,1204.0 L818.4,1200.0 L838.3,1195.7 L858.0,1191.1 L877.7,1186.4 L897.2,1181.3 L916.6,1176.1 L935.9,1170.6 L955.1,1164.9 L974.1,1158.9 L993.1,1152.8 L1011.9,1146.5 L1030.7,1139.9 L1049.3,1133.2 L1067.8,1126.3 L1086.2,1119.3 L1104.5,1112.0 L1122.7,1104.7 L1140.8,1097.1 L1158.8,1089.4 L1176.6,1081.6 L1194.4,1073.6 L1212.1,1065.6 L1229.7,1057.3 L1247.2,1049.0 L1264.6,1040.6 L1281.8,1032.0 L1299.0,1023.4 L1316.1,1014.7 L1333.1,1005.9 L1350.1,997.0 L1366.9,988.0 L1383.6,979.0 L1400.3,969.9 L1416.9,960.7 L1433.4,951.3 L1449.9,941.5 L1466.2,931.3 L1482.3,920.7 L1498.4,909.6 L1514.2,898.1 L1529.9,886.2 L1545.3,873.8 L1560.6,861.0 L1575.6,847.7 L1590.3,834.0 L1604.7,819.8 L1618.8,805.2 L1632.6,790.1 L1646.1,774.6 L1659.1,758.7 L1671.8,742.3 L1684.0,725.6 L1695.9,708.5 L1707.3,691.0 L1720.3,671.3 L1734.5,645.3 L1743.8,622.0 L1751.0,598.8 L1756.5,575.9 L1760.6,553.4 L1763.4,531.4 L1765.4,509.8 L1766.8,488.7 L1767.9,468.1 L1769.0,447.8 L1770.4,428.0 L1772.3,408.4 L1774.9,389.2 L1778.0,370.3 L1780.9,351.4 L1783.6,332.7 L1786.1,314.2 L1788.7,296.0 L1791.3,278.0 L1793.9,260.4 L1797.2,238.0 L1796.0,39.4 L1795.0,-2.8 L1796.7,-2.9 L1797.8,39.4 L1799.0,238.1 L1795.6,260.7 L1793.0,278.3 L1790.4,296.2 L1787.9,314.5 L1785.3,333.0 L1782.6,351.7 L1779.7,370.5 L1776.6,389.5 L1774.0,408.8 L1772.3,428.4 L1771.0,448.3 L1770.1,468.6 L1769.2,489.4 L1768.0,510.7 L1766.3,532.5 L1763.6,554.8 L1759.8,577.7 L1754.4,600.9 L1747.3,624.4 L1738.1,648.1 L1723.8,674.7 L1710.8,694.8 L1699.5,712.5 L1687.8,729.9 L1675.6,746.9 L1663.0,763.5 L1650.0,779.6 L1636.6,795.4 L1622.9,810.6 L1608.8,825.5 L1594.4,839.8 L1579.6,853.7 L1564.7,867.2 L1549.4,880.1 L1534.0,892.6 L1518.3,904.7 L1502.4,916.3 L1486.4,927.4 L1470.2,938.2 L1453.8,948.4 L1437.3,958.3 L1420.8,967.7 L1404.1,976.9 L1387.4,986.0 L1370.7,995.1 L1353.8,1004.0 L1336.8,1013.0 L1319.8,1021.8 L1302.7,1030.5 L1285.4,1039.2 L1268.1,1047.8 L1250.6,1056.2 L1233.1,1064.6 L1215.5,1072.8 L1197.7,1080.9 L1179.9,1088.9 L1161.9,1096.8 L1143.9,1104.5 L1125.7,1112.1 L1107.5,1119.5 L1089.1,1126.7 L1070.6,1133.8 L1052.0,1140.7 L1033.3,1147.5 L1014.5,1154.0 L995.6,1160.4 L976.5,1166.5 L957.4,1172.5 L938.1,1178.2 L918.7,1183.8 L899.2,1189.1 L879.6,1194.1 L859.9,1198.9 L840.0,1203.5 L820.0,1207.8 L800.0,1211.8 L779.7,1215.6 L759.4,1219.1 L739.0,1222.3 L718.4,1225.2 L697.8,1227.9 L677.4,1230.1 Z" fill="#c61d30"/><path d="M677.4,1230.1 L697.8,1227.9 L718.4,1225.2 L739.0,1222.3 L759.4,1219.1 L779.7,1215.6 L800.0,1211.8 L820.0,1207.8 L840.0,1203.5 L859.9,1198.9 L879.6,1194.1 L899.2,1189.1 L918.7,1183.8 L938.1,1178.2 L957.4,1172.5 L976.5,1166.5 L995.6,1160.4 L1014.5,1154.0 L1033.3,1147.5 L1052.0,1140.7 L1070.6,1133.8 L1089.1,1126.7 L1107.5,1119.5 L1125.7,1112.1 L1143.9,1104.5 L1161.9,1096.8 L1179.9,1088.9 L1197.7,1080.9 L1215.5,1072.8 L1233.1,1064.6 L1250.6,1056.2 L1268.1,1047.8 L1285.4,1039.2 L1302.7,1030.5 L1319.8,1021.8 L1336.8,1013.0 L1353.8,1004.0 L1370.7,995.1 L1387.4,986.0 L1404.1,976.9 L1420.8,967.7 L1437.3,958.3 L1453.8,948.4 L1470.2,938.2 L1486.4,927.4 L1502.4,916.3 L1518.3,904.7 L1534.0,892.6 L1549.4,880.1 L1564.7,867.2 L1579.6,853.7 L1594.4,839.8 L1608.8,825.5 L1622.9,810.6 L1636.6,795.4 L1650.0,779.6 L1663.0,763.5 L1675.6,746.9 L1687.8,729.9 L1699.5,712.5 L1710.8,694.8 L1723.8,674.7 L1738.1,648.1 L1747.3,624.4 L1754.4,600.9 L1759.8,577.7 L1763.6,554.8 L1766.3,532.5 L1768.0,510.7 L1769.2,489.4 L1770.1,468.6 L1771.0,448.3 L1772.3,428.4 L1774.0,408.8 L1776.6,389.5 L1779.7,370.5 L1782.6,351.7 L1785.3,333.0 L1787.9,314.5 L1790.4,296.2 L1793.0,278.3 L1795.6,260.7 L1799.0,238.1 L1797.8,39.4 L1796.7,-2.9 L1798.5,-2.9 L1799.5,39.3 L1800.7,238.1 L1797.4,260.9 L1794.7,278.5 L1792.2,296.5 L1789.6,314.7 L1787.0,333.2 L1784.3,351.9 L1781.5,370.8 L1778.4,389.8 L1775.8,409.1 L1774.1,428.8 L1773.0,448.8 L1772.3,469.2 L1771.6,490.2 L1770.6,511.6 L1769.1,533.7 L1766.7,556.2 L1763.0,579.4 L1757.9,602.9 L1750.9,626.9 L1741.8,651.0 L1727.4,678.1 L1714.4,698.6 L1703.2,716.6 L1691.5,734.2 L1679.4,751.5 L1666.9,768.3 L1653.9,784.7 L1640.6,800.6 L1626.9,816.1 L1612.8,831.1 L1598.4,845.7 L1583.7,859.8 L1568.7,873.4 L1553.5,886.5 L1538.0,899.1 L1522.3,911.3 L1506.4,923.0 L1490.4,934.2 L1474.1,945.0 L1457.8,955.4 L1441.3,965.2 L1424.6,974.7 L1408.0,983.9 L1391.3,993.0 L1374.5,1002.1 L1357.6,1011.1 L1340.6,1020.1 L1323.5,1028.9 L1306.3,1037.7 L1289.0,1046.4 L1271.6,1055.0 L1254.1,1063.4 L1236.5,1071.8 L1218.8,1080.1 L1201.0,1088.2 L1183.1,1096.2 L1165.1,1104.1 L1147.0,1111.9 L1128.8,1119.5 L1110.4,1126.9 L1092.0,1134.2 L1073.4,1141.3 L1054.8,1148.2 L1036.0,1155.0 L1017.1,1161.6 L998.1,1168.0 L979.0,1174.2 L959.7,1180.2 L940.4,1185.9 L920.9,1191.5 L901.3,1196.8 L881.5,1201.9 L861.7,1206.7 L841.8,1211.3 L821.7,1215.6 L801.5,1219.7 L781.2,1223.5 L760.7,1227.0 L740.2,1230.2 L719.5,1233.2 L698.7,1235.8 L678.3,1238.1 Z" fill="#c81e30"/><path d="M678.3,1238.1 L698.7,1235.8 L719.5,1233.2 L740.2,1230.2 L760.7,1227.0 L781.2,1223.5 L801.5,1219.7 L821.7,1215.6 L841.8,1211.3 L861.7,1206.7 L881.5,1201.9 L901.3,1196.8 L920.9,1191.5 L940.4,1185.9 L959.7,1180.2 L979.0,1174.2 L998.1,1168.0 L1017.1,1161.6 L1036.0,1155.0 L1054.8,1148.2 L1073.4,1141.3 L1092.0,1134.2 L1110.4,1126.9 L1128.8,1119.5 L1147.0,1111.9 L1165.1,1104.1 L1183.1,1096.2 L1201.0,1088.2 L1218.8,1080.1 L1236.5,1071.8 L1254.1,1063.4 L1271.6,1055.0 L1289.0,1046.4 L1306.3,1037.7 L1323.5,1028.9 L1340.6,1020.1 L1357.6,1011.1 L1374.5,1002.1 L1391.3,993.0 L1408.0,983.9 L1424.6,974.7 L1441.3,965.2 L1457.8,955.4 L1474.1,945.0 L1490.4,934.2 L1506.4,923.0 L1522.3,911.3 L1538.0,899.1 L1553.5,886.5 L1568.7,873.4 L1583.7,859.8 L1598.4,845.7 L1612.8,831.1 L1626.9,816.1 L1640.6,800.6 L1653.9,784.7 L1666.9,768.3 L1679.4,751.5 L1691.5,734.2 L1703.2,716.6 L1714.4,698.6 L1727.4,678.1 L1741.8,651.0 L1750.9,626.9 L1757.9,602.9 L1763.0,579.4 L1766.7,556.2 L1769.1,533.7 L1770.6,511.6 L1771.6,490.2 L1772.3,469.2 L1773.0,448.8 L1774.1,428.8 L1775.8,409.1 L1778.4,389.8 L1781.5,370.8 L1784.3,351.9 L1787.0,333.2 L1789.6,314.7 L1792.2,296.5 L1794.7,278.5 L1797.4,260.9 L1800.7,238.1 L1799.5,39.3 L1798.5,-2.9 L1800.3,-3.0 L1801.3,39.3 L1802.5,238.1 L1799.1,261.2 L1796.5,278.8 L1793.9,296.7 L1791.4,315.0 L1788.8,333.5 L1786.1,352.2 L1783.2,371.1 L1780.1,390.1 L1777.6,409.5 L1776.0,429.2 L1775.0,449.3 L1774.5,469.8 L1774.0,490.9 L1773.2,512.6 L1771.9,534.8 L1769.7,557.6 L1766.3,581.1 L1761.3,605.0 L1754.4,629.3 L1745.4,653.8 L1730.9,681.6 L1717.9,702.4 L1706.8,720.6 L1695.3,738.5 L1683.2,756.0 L1670.8,773.1 L1657.9,789.7 L1644.6,805.9 L1630.9,821.6 L1616.9,836.8 L1602.5,851.5 L1587.8,865.8 L1572.8,879.6 L1557.6,892.8 L1542.1,905.6 L1526.4,917.9 L1510.5,929.7 L1494.4,941.0 L1478.1,951.9 L1461.7,962.3 L1445.2,972.2 L1428.5,981.7 L1411.8,990.9 L1395.1,1000.1 L1378.2,1009.2 L1361.3,1018.2 L1344.3,1027.1 L1327.1,1036.0 L1309.9,1044.8 L1292.5,1053.5 L1275.1,1062.1 L1257.6,1070.6 L1239.9,1079.1 L1222.2,1087.3 L1204.3,1095.5 L1186.4,1103.5 L1168.3,1111.5 L1150.1,1119.2 L1131.8,1126.9 L1113.4,1134.3 L1094.9,1141.6 L1076.3,1148.8 L1057.5,1155.8 L1038.7,1162.6 L1019.7,1169.2 L1000.6,1175.6 L981.4,1181.8 L962.0,1187.8 L942.6,1193.6 L923.0,1199.2 L903.3,1204.5 L883.5,1209.6 L863.6,1214.5 L843.5,1219.1 L823.3,1223.5 L803.0,1227.6 L782.6,1231.4 L762.0,1234.9 L741.4,1238.2 L720.6,1241.1 L699.7,1243.7 L679.1,1246.0 Z" fill="#c91e31"/><path d="M679.1,1246.0 L699.7,1243.7 L720.6,1241.1 L741.4,1238.2 L762.0,1234.9 L782.6,1231.4 L803.0,1227.6 L823.3,1223.5 L843.5,1219.1 L863.6,1214.5 L883.5,1209.6 L903.3,1204.5 L923.0,1199.2 L942.6,1193.6 L962.0,1187.8 L981.4,1181.8 L1000.6,1175.6 L1019.7,1169.2 L1038.7,1162.6 L1057.5,1155.8 L1076.3,1148.8 L1094.9,1141.6 L1113.4,1134.3 L1131.8,1126.9 L1150.1,1119.2 L1168.3,1111.5 L1186.4,1103.5 L1204.3,1095.5 L1222.2,1087.3 L1239.9,1079.1 L1257.6,1070.6 L1275.1,1062.1 L1292.5,1053.5 L1309.9,1044.8 L1327.1,1036.0 L1344.3,1027.1 L1361.3,1018.2 L1378.2,1009.2 L1395.1,1000.1 L1411.8,990.9 L1428.5,981.7 L1445.2,972.2 L1461.7,962.3 L1478.1,951.9 L1494.4,941.0 L1510.5,929.7 L1526.4,917.9 L1542.1,905.6 L1557.6,892.8 L1572.8,879.6 L1587.8,865.8 L1602.5,851.5 L1616.9,836.8 L1630.9,821.6 L1644.6,805.9 L1657.9,789.7 L1670.8,773.1 L1683.2,756.0 L1695.3,738.5 L1706.8,720.6 L1717.9,702.4 L1730.9,681.6 L1745.4,653.8 L1754.4,629.3 L1761.3,605.0 L1766.3,581.1 L1769.7,557.6 L1771.9,534.8 L1773.2,512.6 L1774.0,490.9 L1774.5,469.8 L1775.0,449.3 L1776.0,429.2 L1777.6,409.5 L1780.1,390.1 L1783.2,371.1 L1786.1,352.2 L1788.8,333.5 L1791.4,315.0 L1793.9,296.7 L1796.5,278.8 L1799.1,261.2 L1802.5,238.1 L1801.3,39.3 L1800.3,-3.0 L1802.0,-3.0 L1803.0,39.3 L1804.2,238.2 L1800.9,261.5 L1798.2,279.0 L1795.7,297.0 L1793.1,315.2 L1790.5,333.7 L1787.8,352.4 L1784.9,371.4 L1781.8,390.4 L1779.4,409.8 L1777.9,429.6 L1777.0,449.8 L1776.6,470.4 L1776.3,491.7 L1775.8,513.5 L1774.7,535.9 L1772.8,559.1 L1769.5,582.8 L1764.7,607.1 L1758.0,631.8 L1749.0,656.7 L1734.4,685.0 L1721.5,706.2 L1710.5,724.7 L1699.0,742.8 L1687.1,760.6 L1674.7,777.9 L1661.8,794.7 L1648.6,811.1 L1634.9,827.1 L1620.9,842.5 L1606.6,857.4 L1591.9,871.8 L1576.9,885.8 L1561.6,899.2 L1546.2,912.1 L1530.4,924.5 L1514.5,936.4 L1498.4,947.8 L1482.1,958.7 L1465.7,969.2 L1449.1,979.2 L1432.4,988.7 L1415.7,997.9 L1398.9,1007.1 L1382.0,1016.2 L1365.0,1025.3 L1348.0,1034.2 L1330.8,1043.1 L1313.5,1052.0 L1296.1,1060.7 L1278.6,1069.3 L1261.0,1077.9 L1243.3,1086.3 L1225.5,1094.6 L1207.6,1102.8 L1189.6,1110.9 L1171.5,1118.8 L1153.2,1126.6 L1134.9,1134.3 L1116.4,1141.8 L1097.8,1149.1 L1079.1,1156.3 L1060.3,1163.3 L1041.3,1170.1 L1022.3,1176.7 L1003.1,1183.2 L983.8,1189.4 L964.4,1195.5 L944.8,1201.3 L925.2,1206.9 L905.4,1212.3 L885.4,1217.4 L865.4,1222.3 L845.2,1226.9 L824.9,1231.3 L804.5,1235.4 L784.0,1239.2 L763.3,1242.8 L742.5,1246.1 L721.6,1249.0 L700.6,1251.7 L680.0,1254.0 Z" fill="#ca1e31"/><path d="M680.0,1254.0 L700.6,1251.7 L721.6,1249.0 L742.5,1246.1 L763.3,1242.8 L784.0,1239.2 L804.5,1235.4 L824.9,1231.3 L845.2,1226.9 L865.4,1222.3 L885.4,1217.4 L905.4,1212.3 L925.2,1206.9 L944.8,1201.3 L964.4,1195.5 L983.8,1189.4 L1003.1,1183.2 L1022.3,1176.7 L1041.3,1170.1 L1060.3,1163.3 L1079.1,1156.3 L1097.8,1149.1 L1116.4,1141.8 L1134.9,1134.3 L1153.2,1126.6 L1171.5,1118.8 L1189.6,1110.9 L1207.6,1102.8 L1225.5,1094.6 L1243.3,1086.3 L1261.0,1077.9 L1278.6,1069.3 L1296.1,1060.7 L1313.5,1052.0 L1330.8,1043.1 L1348.0,1034.2 L1365.0,1025.3 L1382.0,1016.2 L1398.9,1007.1 L1415.7,997.9 L1432.4,988.7 L1449.1,979.2 L1465.7,969.2 L1482.1,958.7 L1498.4,947.8 L1514.5,936.4 L1530.4,924.5 L1546.2,912.1 L1561.6,899.2 L1576.9,885.8 L1591.9,871.8 L1606.6,857.4 L1620.9,842.5 L1634.9,827.1 L1648.6,811.1 L1661.8,794.7 L1674.7,777.9 L1687.1,760.6 L1699.0,742.8 L1710.5,724.7 L1721.5,706.2 L1734.4,685.0 L1749.0,656.7 L1758.0,631.8 L1764.7,607.1 L1769.5,582.8 L1772.8,559.1 L1774.7,535.9 L1775.8,513.5 L1776.3,491.7 L1776.6,470.4 L1777.0,449.8 L1777.9,429.6 L1779.4,409.8 L1781.8,390.4 L1784.9,371.4 L1787.8,352.4 L1790.5,333.7 L1793.1,315.2 L1795.7,297.0 L1798.2,279.0 L1800.9,261.5 L1804.2,238.2 L1803.0,39.3 L1802.0,-3.0 L1803.8,-3.0 L1804.8,39.3 L1806.0,238.2 L1802.6,261.8 L1800.0,279.3 L1797.4,297.2 L1794.9,315.4 L1792.3,334.0 L1789.6,352.7 L1786.7,371.6 L1783.6,390.7 L1781.1,410.1 L1779.7,430.0 L1779.0,450.2 L1778.8,471.0 L1778.7,492.4 L1778.4,514.4 L1777.6,537.1 L1775.8,560.5 L1772.8,584.5 L1768.1,609.1 L1761.5,634.2 L1752.7,659.5 L1738.0,688.5 L1725.0,710.0 L1714.1,728.7 L1702.7,747.1 L1690.9,765.1 L1678.5,782.7 L1665.8,799.8 L1652.6,816.4 L1638.9,832.5 L1625.0,848.2 L1610.6,863.3 L1595.9,877.9 L1581.0,891.9 L1565.7,905.5 L1550.2,918.6 L1534.5,931.1 L1518.5,943.1 L1502.4,954.6 L1486.1,965.6 L1469.6,976.1 L1453.0,986.1 L1436.3,995.7 L1419.5,1004.9 L1402.7,1014.1 L1385.8,1023.3 L1368.8,1032.3 L1351.7,1041.3 L1334.4,1050.3 L1317.1,1059.1 L1299.7,1067.8 L1282.1,1076.5 L1264.5,1085.1 L1246.7,1093.5 L1228.9,1101.9 L1210.9,1110.1 L1192.8,1118.2 L1174.6,1126.1 L1156.3,1134.0 L1137.9,1141.6 L1119.4,1149.2 L1100.7,1156.5 L1081.9,1163.8 L1063.0,1170.8 L1044.0,1177.6 L1024.9,1184.3 L1005.6,1190.8 L986.2,1197.1 L966.7,1203.1 L947.1,1209.0 L927.3,1214.6 L907.4,1220.0 L887.4,1225.2 L867.2,1230.1 L847.0,1234.7 L826.6,1239.1 L806.0,1243.3 L785.4,1247.1 L764.6,1250.7 L743.7,1254.0 L722.7,1257.0 L701.6,1259.6 L680.8,1261.9 Z" fill="#cb1f31"/><path d="M680.8,1261.9 L701.6,1259.6 L722.7,1257.0 L743.7,1254.0 L764.6,1250.7 L785.4,1247.1 L806.0,1243.3 L826.6,1239.1 L847.0,1234.7 L867.2,1230.1 L887.4,1225.2 L907.4,1220.0 L927.3,1214.6 L947.1,1209.0 L966.7,1203.1 L986.2,1197.1 L1005.6,1190.8 L1024.9,1184.3 L1044.0,1177.6 L1063.0,1170.8 L1081.9,1163.8 L1100.7,1156.5 L1119.4,1149.2 L1137.9,1141.6 L1156.3,1134.0 L1174.6,1126.1 L1192.8,1118.2 L1210.9,1110.1 L1228.9,1101.9 L1246.7,1093.5 L1264.5,1085.1 L1282.1,1076.5 L1299.7,1067.8 L1317.1,1059.1 L1334.4,1050.3 L1351.7,1041.3 L1368.8,1032.3 L1385.8,1023.3 L1402.7,1014.1 L1419.5,1004.9 L1436.3,995.7 L1453.0,986.1 L1469.6,976.1 L1486.1,965.6 L1502.4,954.6 L1518.5,943.1 L1534.5,931.1 L1550.2,918.6 L1565.7,905.5 L1581.0,891.9 L1595.9,877.9 L1610.6,863.3 L1625.0,848.2 L1638.9,832.5 L1652.6,816.4 L1665.8,799.8 L1678.5,782.7 L1690.9,765.1 L1702.7,747.1 L1714.1,728.7 L1725.0,710.0 L1738.0,688.5 L1752.7,659.5 L1761.5,634.2 L1768.1,609.1 L1772.8,584.5 L1775.8,560.5 L1777.6,537.1 L1778.4,514.4 L1778.7,492.4 L1778.8,471.0 L1779.0,450.2 L1779.7,430.0 L1781.1,410.1 L1783.6,390.7 L1786.7,371.6 L1789.6,352.7 L1792.3,334.0 L1794.9,315.4 L1797.4,297.2 L1800.0,279.3 L1802.6,261.8 L1806.0,238.2 L1804.8,39.3 L1803.8,-3.0 L1805.5,-3.1 L1806.6,39.2 L1807.8,238.2 L1804.3,262.0 L1801.7,279.6 L1799.1,297.5 L1796.6,315.7 L1794.0,334.2 L1791.3,353.0 L1788.4,371.9 L1785.3,391.0 L1782.9,410.5 L1781.6,430.4 L1781.0,450.7 L1781.0,471.6 L1781.1,493.1 L1781.0,515.3 L1780.4,538.2 L1778.8,561.9 L1776.0,586.2 L1771.5,611.2 L1765.1,636.6 L1756.3,662.4 L1741.5,691.9 L1728.6,713.8 L1717.8,732.8 L1706.5,751.5 L1694.7,769.7 L1682.4,787.5 L1669.7,804.8 L1656.5,821.7 L1643.0,838.0 L1629.0,853.8 L1614.7,869.1 L1600.0,883.9 L1585.1,898.1 L1569.8,911.9 L1554.3,925.0 L1538.5,937.7 L1522.6,949.8 L1506.4,961.4 L1490.1,972.5 L1473.6,983.0 L1456.9,993.1 L1440.2,1002.7 L1423.4,1011.9 L1406.5,1021.2 L1389.6,1030.3 L1372.5,1039.4 L1355.4,1048.4 L1338.1,1057.4 L1320.7,1066.2 L1303.2,1075.0 L1285.7,1083.7 L1268.0,1092.3 L1250.2,1100.8 L1232.2,1109.1 L1214.2,1117.4 L1196.1,1125.5 L1177.8,1133.5 L1159.4,1141.3 L1141.0,1149.0 L1122.3,1156.6 L1103.6,1164.0 L1084.8,1171.2 L1065.8,1178.3 L1046.7,1185.2 L1027.5,1191.9 L1008.1,1198.4 L988.6,1204.7 L969.0,1210.8 L949.3,1216.6 L929.4,1222.3 L909.5,1227.7 L889.3,1232.9 L869.1,1237.9 L848.7,1242.5 L828.2,1247.0 L807.6,1251.1 L786.8,1255.0 L765.9,1258.6 L744.9,1261.9 L723.8,1264.9 L702.5,1267.6 L681.7,1269.9 Z" fill="#cc1f32"/><path d="M681.7,1269.9 L702.5,1267.6 L723.8,1264.9 L744.9,1261.9 L765.9,1258.6 L786.8,1255.0 L807.6,1251.1 L828.2,1247.0 L848.7,1242.5 L869.1,1237.9 L889.3,1232.9 L909.5,1227.7 L929.4,1222.3 L949.3,1216.6 L969.0,1210.8 L988.6,1204.7 L1008.1,1198.4 L1027.5,1191.9 L1046.7,1185.2 L1065.8,1178.3 L1084.8,1171.2 L1103.6,1164.0 L1122.3,1156.6 L1141.0,1149.0 L1159.4,1141.3 L1177.8,1133.5 L1196.1,1125.5 L1214.2,1117.4 L1232.2,1109.1 L1250.2,1100.8 L1268.0,1092.3 L1285.7,1083.7 L1303.2,1075.0 L1320.7,1066.2 L1338.1,1057.4 L1355.4,1048.4 L1372.5,1039.4 L1389.6,1030.3 L1406.5,1021.2 L1423.4,1011.9 L1440.2,1002.7 L1456.9,993.1 L1473.6,983.0 L1490.1,972.5 L1506.4,961.4 L1522.6,949.8 L1538.5,937.7 L1554.3,925.0 L1569.8,911.9 L1585.1,898.1 L1600.0,883.9 L1614.7,869.1 L1629.0,853.8 L1643.0,838.0 L1656.5,821.7 L1669.7,804.8 L1682.4,787.5 L1694.7,769.7 L1706.5,751.5 L1717.8,732.8 L1728.6,713.8 L1741.5,691.9 L1756.3,662.4 L1765.1,636.6 L1771.5,611.2 L1776.0,586.2 L1778.8,561.9 L1780.4,538.2 L1781.0,515.3 L1781.1,493.1 L1781.0,471.6 L1781.0,450.7 L1781.6,430.4 L1782.9,410.5 L1785.3,391.0 L1788.4,371.9 L1791.3,353.0 L1794.0,334.2 L1796.6,315.7 L1799.1,297.5 L1801.7,279.6 L1804.3,262.0 L1807.8,238.2 L1806.6,39.2 L1805.5,-3.1 L1807.3,-3.1 L1808.3,39.2 L1809.5,238.3 L1806.1,262.3 L1803.4,279.8 L1800.9,297.7 L1798.3,315.9 L1795.8,334.4 L1793.0,353.2 L1790.2,372.2 L1787.0,391.3 L1784.7,410.8 L1783.4,430.8 L1783.1,451.2 L1783.2,472.2 L1783.5,493.9 L1783.6,516.2 L1783.2,539.4 L1781.9,563.3 L1779.3,587.9 L1775.0,613.2 L1768.6,639.1 L1759.9,665.3 L1745.0,695.3 L1732.1,717.5 L1721.4,736.9 L1710.2,755.8 L1698.5,774.3 L1686.3,792.3 L1673.6,809.8 L1660.5,826.9 L1647.0,843.5 L1633.1,859.5 L1618.7,875.0 L1604.1,889.9 L1589.1,904.3 L1573.9,918.2 L1558.3,931.5 L1542.6,944.3 L1526.6,956.5 L1510.4,968.2 L1494.1,979.3 L1477.5,990.0 L1460.9,1000.1 L1444.1,1009.7 L1427.3,1019.0 L1410.4,1028.2 L1393.4,1037.4 L1376.3,1046.5 L1359.1,1055.5 L1341.8,1064.5 L1324.3,1073.4 L1306.8,1082.2 L1289.2,1090.9 L1271.4,1099.5 L1253.6,1108.0 L1235.6,1116.4 L1217.5,1124.7 L1199.3,1132.8 L1181.0,1140.8 L1162.6,1148.7 L1144.0,1156.4 L1125.3,1164.0 L1106.5,1171.5 L1087.6,1178.7 L1068.5,1185.8 L1049.4,1192.7 L1030.1,1199.4 L1010.6,1206.0 L991.1,1212.3 L971.4,1218.4 L951.5,1224.3 L931.6,1230.0 L911.5,1235.5 L891.3,1240.7 L870.9,1245.6 L850.5,1250.3 L829.8,1254.8 L809.1,1259.0 L788.2,1262.9 L767.2,1266.5 L746.1,1269.8 L724.8,1272.8 L703.4,1275.5 L682.5,1277.9 Z" fill="#cd1f32"/><path d="M682.5,1277.9 L703.4,1275.5 L724.8,1272.8 L746.1,1269.8 L767.2,1266.5 L788.2,1262.9 L809.1,1259.0 L829.8,1254.8 L850.5,1250.3 L870.9,1245.6 L891.3,1240.7 L911.5,1235.5 L931.6,1230.0 L951.5,1224.3 L971.4,1218.4 L991.1,1212.3 L1010.6,1206.0 L1030.1,1199.4 L1049.4,1192.7 L1068.5,1185.8 L1087.6,1178.7 L1106.5,1171.5 L1125.3,1164.0 L1144.0,1156.4 L1162.6,1148.7 L1181.0,1140.8 L1199.3,1132.8 L1217.5,1124.7 L1235.6,1116.4 L1253.6,1108.0 L1271.4,1099.5 L1289.2,1090.9 L1306.8,1082.2 L1324.3,1073.4 L1341.8,1064.5 L1359.1,1055.5 L1376.3,1046.5 L1393.4,1037.4 L1410.4,1028.2 L1427.3,1019.0 L1444.1,1009.7 L1460.9,1000.1 L1477.5,990.0 L1494.1,979.3 L1510.4,968.2 L1526.6,956.5 L1542.6,944.3 L1558.3,931.5 L1573.9,918.2 L1589.1,904.3 L1604.1,889.9 L1618.7,875.0 L1633.1,859.5 L1647.0,843.5 L1660.5,826.9 L1673.6,809.8 L1686.3,792.3 L1698.5,774.3 L1710.2,755.8 L1721.4,736.9 L1732.1,717.5 L1745.0,695.3 L1759.9,665.3 L1768.6,639.1 L1775.0,613.2 L1779.3,587.9 L1781.9,563.3 L1783.2,539.4 L1783.6,516.2 L1783.5,493.9 L1783.2,472.2 L1783.1,451.2 L1783.4,430.8 L1784.7,410.8 L1787.0,391.3 L1790.2,372.2 L1793.0,353.2 L1795.8,334.4 L1798.3,315.9 L1800.9,297.7 L1803.4,279.8 L1806.1,262.3 L1809.5,238.3 L1808.3,39.2 L1807.3,-3.1 L1809.1,-3.2 L1810.1,39.2 L1811.3,238.3 L1807.8,262.6 L1805.2,280.1 L1802.6,297.9 L1800.1,316.2 L1797.5,334.7 L1794.8,353.5 L1791.9,372.5 L1788.8,391.6 L1786.5,411.2 L1785.3,431.1 L1785.1,451.7 L1785.3,472.8 L1785.8,494.6 L1786.2,517.2 L1786.0,540.5 L1784.9,564.7 L1782.5,589.6 L1778.4,615.3 L1772.2,641.5 L1763.6,668.1 L1748.6,698.8 L1735.7,721.3 L1725.1,740.9 L1714.0,760.1 L1702.3,778.8 L1690.2,797.1 L1677.6,814.9 L1664.5,832.2 L1651.0,848.9 L1637.1,865.2 L1622.8,880.8 L1608.2,896.0 L1593.2,910.5 L1577.9,924.5 L1562.4,938.0 L1546.6,950.9 L1530.6,963.2 L1514.4,975.0 L1498.0,986.2 L1481.5,996.9 L1464.8,1007.0 L1448.0,1016.6 L1431.1,1026.0 L1414.2,1035.2 L1397.1,1044.4 L1380.0,1053.5 L1362.8,1062.6 L1345.4,1071.6 L1327.9,1080.5 L1310.4,1089.3 L1292.7,1098.1 L1274.9,1106.7 L1257.0,1115.2 L1239.0,1123.6 L1220.8,1131.9 L1202.6,1140.1 L1184.2,1148.2 L1165.7,1156.1 L1147.0,1163.8 L1128.3,1171.5 L1109.4,1178.9 L1090.4,1186.2 L1071.3,1193.3 L1052.0,1200.3 L1032.6,1207.0 L1013.1,1213.6 L993.5,1219.9 L973.7,1226.1 L953.8,1232.0 L933.7,1237.7 L913.5,1243.2 L893.2,1248.4 L872.8,1253.4 L852.2,1258.2 L831.5,1262.6 L810.6,1266.8 L789.6,1270.7 L768.5,1274.4 L747.3,1277.7 L725.9,1280.7 L704.4,1283.5 L683.3,1285.8 Z" fill="#cd1f32"/><path d="M683.3,1285.8 L704.4,1283.5 L725.9,1280.7 L747.3,1277.7 L768.5,1274.4 L789.6,1270.7 L810.6,1266.8 L831.5,1262.6 L852.2,1258.2 L872.8,1253.4 L893.2,1248.4 L913.5,1243.2 L933.7,1237.7 L953.8,1232.0 L973.7,1226.1 L993.5,1219.9 L1013.1,1213.6 L1032.6,1207.0 L1052.0,1200.3 L1071.3,1193.3 L1090.4,1186.2 L1109.4,1178.9 L1128.3,1171.5 L1147.0,1163.8 L1165.7,1156.1 L1184.2,1148.2 L1202.6,1140.1 L1220.8,1131.9 L1239.0,1123.6 L1257.0,1115.2 L1274.9,1106.7 L1292.7,1098.1 L1310.4,1089.3 L1327.9,1080.5 L1345.4,1071.6 L1362.8,1062.6 L1380.0,1053.5 L1397.1,1044.4 L1414.2,1035.2 L1431.1,1026.0 L1448.0,1016.6 L1464.8,1007.0 L1481.5,996.9 L1498.0,986.2 L1514.4,975.0 L1530.6,963.2 L1546.6,950.9 L1562.4,938.0 L1577.9,924.5 L1593.2,910.5 L1608.2,896.0 L1622.8,880.8 L1637.1,865.2 L1651.0,848.9 L1664.5,832.2 L1677.6,814.9 L1690.2,797.1 L1702.3,778.8 L1714.0,760.1 L1725.1,740.9 L1735.7,721.3 L1748.6,698.8 L1763.6,668.1 L1772.2,641.5 L1778.4,615.3 L1782.5,589.6 L1784.9,564.7 L1786.0,540.5 L1786.2,517.2 L1785.8,494.6 L1785.3,472.8 L1785.1,451.7 L1785.3,431.1 L1786.5,411.2 L1788.8,391.6 L1791.9,372.5 L1794.8,353.5 L1797.5,334.7 L1800.1,316.2 L1802.6,297.9 L1805.2,280.1 L1807.8,262.6 L1811.3,238.3 L1810.1,39.2 L1809.1,-3.2 L1810.8,-3.2 L1811.8,39.1 L1813.0,238.4 L1809.6,262.8 L1806.9,280.3 L1804.4,298.2 L1801.8,316.4 L1799.2,334.9 L1796.5,353.7 L1793.6,372.7 L1790.5,391.9 L1788.2,411.5 L1787.2,431.5 L1787.1,452.2 L1787.5,473.4 L1788.2,495.4 L1788.8,518.1 L1788.9,541.7 L1788.0,566.1 L1785.8,591.3 L1781.8,617.3 L1775.7,644.0 L1767.2,671.0 L1752.1,702.2 L1739.2,725.1 L1728.7,745.0 L1717.7,764.4 L1706.1,783.4 L1694.1,801.9 L1681.5,819.9 L1668.5,837.4 L1655.0,854.4 L1641.1,870.8 L1626.9,886.7 L1612.2,902.0 L1597.3,916.7 L1582.0,930.9 L1566.5,944.5 L1550.7,957.5 L1534.7,969.9 L1518.4,981.8 L1502.0,993.1 L1485.4,1003.8 L1468.7,1014.0 L1451.8,1023.6 L1435.0,1033.0 L1418.0,1042.2 L1400.9,1051.5 L1383.7,1060.6 L1366.5,1069.7 L1349.1,1078.7 L1331.6,1087.6 L1313.9,1096.5 L1296.2,1105.2 L1278.4,1113.9 L1260.4,1122.5 L1242.3,1130.9 L1224.1,1139.2 L1205.8,1147.4 L1187.4,1155.5 L1168.8,1163.4 L1150.1,1171.2 L1131.3,1178.9 L1112.3,1186.4 L1093.2,1193.7 L1074.0,1200.8 L1054.7,1207.8 L1035.2,1214.6 L1015.6,1221.2 L995.9,1227.6 L976.0,1233.7 L956.0,1239.7 L935.9,1245.4 L915.6,1250.9 L895.2,1256.2 L874.6,1261.2 L853.9,1266.0 L833.1,1270.5 L812.1,1274.7 L791.1,1278.6 L769.8,1282.3 L748.5,1285.6 L727.0,1288.7 L705.3,1291.4 L684.2,1293.8 Z" fill="#ce1f32"/><path d="M684.2,1293.8 L705.3,1291.4 L727.0,1288.7 L748.5,1285.6 L769.8,1282.3 L791.1,1278.6 L812.1,1274.7 L833.1,1270.5 L853.9,1266.0 L874.6,1261.2 L895.2,1256.2 L915.6,1250.9 L935.9,1245.4 L956.0,1239.7 L976.0,1233.7 L995.9,1227.6 L1015.6,1221.2 L1035.2,1214.6 L1054.7,1207.8 L1074.0,1200.8 L1093.2,1193.7 L1112.3,1186.4 L1131.3,1178.9 L1150.1,1171.2 L1168.8,1163.4 L1187.4,1155.5 L1205.8,1147.4 L1224.1,1139.2 L1242.3,1130.9 L1260.4,1122.5 L1278.4,1113.9 L1296.2,1105.2 L1313.9,1096.5 L1331.6,1087.6 L1349.1,1078.7 L1366.5,1069.7 L1383.7,1060.6 L1400.9,1051.5 L1418.0,1042.2 L1435.0,1033.0 L1451.8,1023.6 L1468.7,1014.0 L1485.4,1003.8 L1502.0,993.1 L1518.4,981.8 L1534.7,969.9 L1550.7,957.5 L1566.5,944.5 L1582.0,930.9 L1597.3,916.7 L1612.2,902.0 L1626.9,886.7 L1641.1,870.8 L1655.0,854.4 L1668.5,837.4 L1681.5,819.9 L1694.1,801.9 L1706.1,783.4 L1717.7,764.4 L1728.7,745.0 L1739.2,725.1 L1752.1,702.2 L1767.2,671.0 L1775.7,644.0 L1781.8,617.3 L1785.8,591.3 L1788.0,566.1 L1788.9,541.7 L1788.8,518.1 L1788.2,495.4 L1787.5,473.4 L1787.1,452.2 L1787.2,431.5 L1788.2,411.5 L1790.5,391.9 L1793.6,372.7 L1796.5,353.7 L1799.2,334.9 L1801.8,316.4 L1804.4,298.2 L1806.9,280.3 L1809.6,262.8 L1813.0,238.4 L1811.8,39.1 L1810.8,-3.2 L1812.6,-3.3 L1813.6,39.1 L1814.8,238.4 L1811.3,263.1 L1808.7,280.6 L1806.1,298.4 L1803.6,316.7 L1801.0,335.2 L1798.3,354.0 L1795.4,373.0 L1792.2,392.2 L1790.0,411.8 L1789.0,431.9 L1789.1,452.6 L1789.7,474.0 L1790.6,496.1 L1791.4,519.0 L1791.7,542.8 L1791.0,567.5 L1789.0,593.0 L1785.2,619.4 L1779.3,646.4 L1770.9,673.8 L1755.6,705.7 L1742.8,728.9 L1732.4,749.0 L1721.4,768.7 L1710.0,787.9 L1698.0,806.7 L1685.5,825.0 L1672.5,842.7 L1659.1,859.9 L1645.2,876.5 L1630.9,892.6 L1616.3,908.0 L1601.4,922.9 L1586.1,937.2 L1570.5,950.9 L1554.7,964.1 L1538.7,976.6 L1522.4,988.6 L1506.0,999.9 L1489.4,1010.7 L1472.6,1021.0 L1455.7,1030.6 L1438.8,1040.0 L1421.8,1049.3 L1404.7,1058.5 L1387.5,1067.7 L1370.2,1076.8 L1352.7,1085.8 L1335.2,1094.8 L1317.5,1103.7 L1299.7,1112.4 L1281.8,1121.1 L1263.8,1129.7 L1245.7,1138.2 L1227.4,1146.5 L1209.0,1154.8 L1190.5,1162.9 L1171.9,1170.8 L1153.1,1178.6 L1134.2,1186.3 L1115.2,1193.8 L1096.1,1201.2 L1076.8,1208.3 L1057.4,1215.3 L1037.8,1222.2 L1018.1,1228.8 L998.3,1235.2 L978.4,1241.4 L958.3,1247.4 L938.0,1253.1 L917.6,1258.7 L897.1,1263.9 L876.5,1269.0 L855.7,1273.8 L834.7,1278.3 L813.7,1282.5 L792.5,1286.5 L771.1,1290.2 L749.6,1293.5 L728.0,1296.6 L706.3,1299.4 L685.0,1301.7 Z" fill="#ce2032"/></g></g>
<path d="M1758.4,-1.5 L1758.1,4.3 L1757.9,10.2 L1757.7,16.0 L1757.5,21.9 L1757.3,27.8 L1757.2,33.7 L1757.1,39.6 L1757.0,45.6 L1756.9,51.5 L1756.8,57.5 L1756.7,63.4 L1756.7,69.4 L1756.6,75.4 L1756.6,81.4 L1756.6,87.4 L1756.6,93.5 L1756.6,99.5 L1756.6,105.5 L1756.6,111.6 L1756.6,117.6 L1756.5,123.7 L1756.5,129.8 L1756.5,135.9 L1756.5,141.9 L1756.5,148.0 L1756.5,154.1 L1756.5,160.2 L1756.5,166.3 L1756.4,172.5 L1756.4,178.6 L1756.3,184.7 L1756.2,190.8 L1756.1,196.9 L1756.0,203.0 L1755.9,209.2 L1755.7,215.3 L1755.6,221.4 L1755.4,227.5 L1755.2,233.7 L1754.9,239.8 L1754.7,245.9 L1754.4,252.0 L1754.1,258.1 L1753.7,264.3 L1753.4,270.4 L1752.9,276.5 L1752.5,282.6 L1752.0,288.7 L1751.5,294.7 L1751.0,300.8 L1750.4,306.9 L1749.8,313.0 L1749.1,319.0 L1748.4,325.1 L1747.7,331.1 L1746.9,337.2 L1746.1,343.2 L1745.2,349.2 L1744.3,355.2 L1743.3,361.2 L1742.2,367.2 L1741.2,373.2 L1740.0,379.2 L1738.8,385.1 L1737.6,391.0 L1736.3,397.0 L1734.9,402.9 L1733.5,408.8 L1732.0,414.7 L1730.5,420.5 L1728.9,426.4 L1727.2,432.2 L1725.5,438.0 L1723.7,443.8 L1721.8,449.6 L1719.9,455.3 L1717.9,461.1 L1715.8,466.8 L1713.7,472.4 L1711.5,478.1 L1709.2,483.7 L1706.8,489.3 L1704.4,494.8 L1701.9,500.3 L1699.3,505.8 L1696.7,511.2 L1693.9,516.6 L1691.1,521.9 L1688.3,527.2 L1685.3,532.5 L1682.3,537.7 L1679.1,542.9 L1675.9,548.0 L1672.7,553.1 L1669.3,558.1 L1665.9,563.0 L1662.3,567.9 L1658.7,572.8 L1655.0,577.5 L1651.3,582.3 L1647.4,586.9 L1643.5,591.5 L1639.5,596.1 L1635.5,600.6 L1631.3,605.0 L1627.1,609.4 L1622.9,613.7 L1618.5,617.9 L1614.1,622.0 L1609.7,626.1 L1605.2,630.2 L1600.6,634.1 L1595.9,638.0 L1591.3,641.8 L1586.5,645.6 L1581.7,649.3 L1576.8,652.9 L1571.9,656.4 L1567.0,659.8 L1562.0,663.2 L1556.9,666.5 L1551.8,669.7 L1546.7,672.9 L1541.5,675.9 L1536.3,678.9 L1531.1,681.8 L1525.8,684.6 L1520.4,687.4 L1515.1,690.0 L1509.7,692.6 L1504.2,695.1 L1498.8,697.5 L1493.3,699.9 L1487.7,702.2 L1482.2,704.4 L1476.6,706.5 L1470.9,708.6 L1465.3,710.5 L1459.6,712.5 L1453.9,714.3 L1448.2,716.1 L1442.4,717.8 L1436.6,719.4 L1430.8,721.0 L1425.0,722.5 L1419.1,724.0 L1413.2,725.4 L1407.3,726.7 L1401.4,727.9 L1395.5,729.1 L1389.5,730.3 L1383.5,731.3 L1377.5,732.4 L1371.5,733.3 L1365.5,734.2 L1359.5,735.1 L1353.4,735.9 L1347.4,736.6 L1341.3,737.3 L1335.2,737.9 L1329.1,738.5 L1323.0,739.0 L1316.9,739.5 L1310.7,740.0 L1304.6,740.3 L1298.5,740.7 L1292.3,741.0 L1286.2,741.2 L1280.0,741.4 L1273.8,741.6 L1267.7,741.7 L1261.5,741.7 L1255.3,741.8 L1249.2,741.8 L1243.0,741.7 L1236.8,741.6 L1230.7,741.5 L1224.5,741.3 L1218.4,741.1 L1212.2,740.9 L1206.1,740.6 L1199.9,740.3 L1193.8,740.0 L1187.6,739.6 L1181.5,739.2 L1175.4,738.8 L1169.3,738.3 L1163.2,737.9 L1157.1,737.3 L1151.1,736.8 L1145.0,736.2 L1139.0,735.6 L1132.9,735.0 L1126.9,734.4 L1120.9,733.7 L1115.0,733.0 L1109.0,732.3 L1103.1,731.6 L1097.1,730.9 L1091.2,730.1 L1085.3,729.3 L1079.5,728.6 L1073.6,727.7 L1067.8,726.9 L1062.0,726.1 L1056.3,725.2 L1050.5,724.4 L1044.8,723.5 L1039.1,722.6 L1033.5,721.7 L1027.8,720.8 L1022.2,719.9 L1016.7,719.0 L1014.8,718.5 L1014.7,724.4 L1014.5,730.4 L1014.2,736.4 L1013.9,742.4 L1013.6,748.4 L1013.2,754.5 L1012.7,760.5 L1012.1,766.6 L1011.5,772.7 L1010.8,778.8 L1010.0,784.8 L1009.1,790.9 L1008.1,796.9 L1007.1,803.0 L1005.9,809.0 L1004.6,815.0 L1003.3,820.9 L1001.8,826.9 L1000.2,832.8 L998.5,838.6 L996.7,844.5 L994.8,850.3 L992.7,856.0 L990.6,861.7 L988.3,867.4 L986.0,873.0 L983.5,878.5 L980.9,884.0 L978.2,889.4 L975.4,894.8 L972.5,900.1 L969.5,905.4 L966.4,910.5 L963.2,915.6 L959.9,920.7 L956.4,925.6 L952.9,930.5 L949.3,935.3 L945.6,940.0 L941.7,944.6 L937.8,949.1 L933.8,953.6 L929.7,957.9 L925.5,962.2 L921.1,966.3 L916.7,970.4 L912.2,974.3 L907.6,978.2 L902.9,981.9 L898.2,985.5 L893.3,989.1 L888.3,992.4 L883.3,995.7 L878.1,998.9 L872.9,1002.0 L867.6,1004.9 L862.3,1007.8 L856.9,1010.5 L851.4,1013.2 L845.8,1015.7 L840.2,1018.1 L834.6,1020.5 L828.9,1022.7 L823.2,1024.9 L817.4,1027.0 L811.6,1029.0 L805.8,1030.9 L800.0,1032.7 L794.1,1034.4 L788.2,1036.0 L782.3,1037.6 L776.4,1039.1 L770.5,1040.5 L764.6,1041.8 L758.7,1043.1 L752.7,1044.3 L746.8,1045.4 L740.9,1046.5 L734.9,1047.5 L728.9,1048.4 L723.0,1049.3 L717.0,1050.1 L711.0,1050.9 L705.0,1051.6 L699.0,1052.3 L693.0,1053.0 L687.0,1053.6 L681.0,1054.1 L675.0,1054.6 L669.0,1055.1 L663.0,1055.6 L657.0,1056.0 L650.9,1056.4 L644.9,1056.8 L638.8,1057.2 L632.8,1057.5 L626.8,1057.8 L620.7,1058.1 L614.6,1058.4 L608.6,1058.7 L602.5,1059.0 L596.5,1059.3 L590.4,1059.5 L584.3,1059.8 L578.3,1060.1 L572.2,1060.4 L566.1,1060.7 L560.0,1061.0 L659.7,1063.1 L665.8,1062.4 L671.9,1061.7 L677.9,1061.0 L684.0,1060.3 L690.0,1059.5 L696.1,1058.7 L702.1,1057.9 L708.1,1057.1 L714.1,1056.2 L720.2,1055.3 L726.2,1054.3 L732.1,1053.3 L738.1,1052.3 L744.1,1051.3 L750.1,1050.3 L756.0,1049.2 L762.0,1048.1 L767.9,1046.9 L773.9,1045.8 L779.8,1044.6 L785.7,1043.3 L791.6,1042.1 L797.6,1040.8 L803.5,1039.5 L809.4,1038.2 L815.2,1036.8 L821.1,1035.5 L827.0,1034.1 L832.9,1032.6 L838.7,1031.2 L844.6,1029.7 L850.4,1028.2 L856.3,1026.6 L862.1,1025.1 L867.9,1023.5 L873.7,1021.9 L879.5,1020.3 L885.3,1018.6 L891.1,1017.0 L896.9,1015.3 L902.7,1013.5 L908.5,1011.8 L914.2,1010.0 L920.0,1008.2 L925.7,1006.4 L931.5,1004.6 L937.2,1002.7 L943.0,1000.8 L948.7,998.9 L954.4,997.0 L960.1,995.1 L965.8,993.1 L971.5,991.1 L977.2,989.1 L982.9,987.1 L988.6,985.1 L994.3,983.0 L999.9,980.9 L1005.6,978.8 L1011.2,976.7 L1016.9,974.5 L1022.5,972.4 L1028.1,970.2 L1033.8,968.0 L1039.4,965.8 L1045.0,963.5 L1050.6,961.3 L1056.2,959.0 L1061.8,956.7 L1067.4,954.4 L1073.0,952.1 L1078.5,949.7 L1084.1,947.4 L1089.7,945.0 L1095.2,942.6 L1100.8,940.2 L1106.3,937.7 L1111.9,935.3 L1117.4,932.8 L1122.9,930.4 L1128.4,927.9 L1134.0,925.4 L1139.5,922.9 L1145.0,920.3 L1150.5,917.8 L1155.9,915.2 L1161.4,912.6 L1166.9,910.0 L1172.4,907.4 L1177.8,904.8 L1183.3,902.2 L1188.8,899.5 L1194.2,896.9 L1199.6,894.2 L1205.1,891.5 L1210.5,888.8 L1215.9,886.1 L1221.3,883.4 L1226.8,880.7 L1232.2,877.9 L1237.6,875.2 L1243.0,872.4 L1248.4,869.6 L1253.7,866.8 L1259.1,864.0 L1264.5,861.2 L1269.9,858.4 L1275.2,855.6 L1280.6,852.7 L1285.9,849.9 L1291.3,847.0 L1296.6,844.1 L1301.9,841.3 L1307.3,838.4 L1312.6,835.5 L1317.9,832.6 L1323.2,829.7 L1328.5,826.7 L1333.8,823.8 L1339.1,820.9 L1344.4,817.9 L1349.7,815.0 L1355.0,812.0 L1360.2,809.0 L1365.5,806.0 L1370.8,803.0 L1376.0,800.0 L1381.3,797.0 L1386.5,794.0 L1391.7,790.9 L1396.9,787.9 L1402.1,784.8 L1407.3,781.8 L1412.5,778.7 L1417.7,775.6 L1422.9,772.4 L1428.0,769.3 L1433.2,766.1 L1438.3,763.0 L1443.5,759.8 L1448.6,756.6 L1453.7,753.4 L1458.8,750.1 L1463.9,746.9 L1468.9,743.6 L1474.0,740.3 L1479.0,737.0 L1484.0,733.7 L1489.1,730.4 L1494.1,727.0 L1499.1,723.6 L1504.0,720.2 L1509.0,716.8 L1513.9,713.3 L1518.9,709.9 L1523.8,706.4 L1528.7,702.9 L1533.5,699.3 L1538.4,695.8 L1543.3,692.2 L1548.1,688.6 L1552.9,685.0 L1557.7,681.3 L1562.5,677.6 L1567.2,673.9 L1572.0,670.2 L1576.7,666.4 L1581.4,662.6 L1586.1,658.8 L1590.8,655.0 L1595.4,651.1 L1600.0,647.2 L1604.6,643.3 L1609.2,639.4 L1613.8,635.4 L1618.3,631.4 L1622.8,627.3 L1627.3,623.2 L1631.8,619.1 L1636.3,615.0 L1640.7,610.8 L1645.1,606.6 L1649.6,602.4 L1653.8,597.7 L1657.8,592.9 L1661.7,588.1 L1665.5,583.2 L1669.1,578.2 L1672.7,573.2 L1676.1,568.1 L1679.4,562.9 L1682.6,557.7 L1685.7,552.4 L1688.7,547.1 L1691.6,541.7 L1694.4,536.3 L1697.1,530.9 L1699.7,525.3 L1702.2,519.8 L1704.6,514.2 L1706.9,508.5 L1709.2,502.9 L1711.3,497.1 L1713.4,491.4 L1715.4,485.6 L1717.4,479.8 L1719.2,473.9 L1721.0,468.0 L1722.7,462.1 L1724.4,456.2 L1726.0,450.2 L1727.5,444.2 L1729.0,438.2 L1730.4,432.1 L1731.8,426.1 L1733.1,420.0 L1734.4,413.9 L1735.6,407.8 L1736.8,401.7 L1738.0,395.6 L1739.1,389.4 L1740.2,383.3 L1741.2,377.1 L1742.2,370.9 L1743.2,364.8 L1744.2,358.6 L1745.1,352.4 L1746.0,346.3 L1746.9,340.1 L1747.8,333.9 L1748.7,327.8 L1749.6,321.6 L1750.4,315.5 L1751.3,309.4 L1752.1,303.3 L1753.0,297.2 L1753.8,291.1 L1754.7,285.0 L1755.6,279.0 L1756.4,272.9 L1757.3,266.9 L1758.2,260.9 L1759.1,255.0 L1760.1,249.0 L1761.0,243.1 L1762.0,237.3 L1762.4,180.0 L1762.2,140.0 L1760.8,40.0 L1759.8,-2.0 Z" fill="#bcbdbf"/>
<path d="M1482.2,704.4 L1476.6,706.5 L1470.9,708.6 L1465.3,710.5 L1459.6,712.5 L1453.9,714.3 L1448.2,716.1 L1442.4,717.8 L1436.6,719.4 L1430.8,721.0 L1425.0,722.5 L1419.1,724.0 L1413.2,725.4 L1407.3,726.7 L1401.4,727.9 L1395.5,729.1 L1389.5,730.3 L1383.5,731.3 L1377.5,732.4 L1371.5,733.3 L1365.5,734.2 L1359.5,735.1 L1353.4,735.9 L1347.4,736.6 L1341.3,737.3 L1335.2,737.9 L1329.1,738.5 L1323.0,739.0 L1316.9,739.5 L1310.7,740.0 L1304.6,740.3 L1298.5,740.7 L1292.3,741.0 L1286.2,741.2 L1280.0,741.4 L1273.8,741.6 L1267.7,741.7 L1261.5,741.7 L1255.3,741.8 L1249.2,741.8 L1243.0,741.7 L1236.8,741.6 L1230.7,741.5 L1224.5,741.3 L1218.4,741.1 L1212.2,740.9 L1206.1,740.6 L1199.9,740.3 L1193.8,740.0 L1187.6,739.6 L1181.5,739.2 L1175.4,738.8 L1169.3,738.3 L1163.2,737.9 L1157.1,737.3 L1151.1,736.8 L1145.0,736.2 L1139.0,735.6 L1132.9,735.0 L1126.9,734.4 L1120.9,733.7 L1115.0,733.0 L1109.0,732.3 L1103.1,731.6 L1097.1,730.9 L1091.2,730.1 L1085.3,729.3 L1079.5,728.6 L1073.6,727.7 L1067.8,726.9 L1062.0,726.1 L1056.3,725.2 L1050.5,724.4 L1044.8,723.5 L1039.1,722.6 L1033.5,721.7 L1027.8,720.8 L1022.2,719.9 L1016.7,719.0 L1014.8,718.5 L1014.7,724.4 L1014.5,730.4 L1014.2,736.4 L1013.9,742.4 L1013.6,748.4 L1013.2,754.5 L1012.7,760.5 L1012.1,766.6 L1011.5,772.7 L1010.8,778.8 L1010.0,784.8 L1009.1,790.9 L1008.1,796.9 L1007.1,803.0 L1005.9,809.0 L1004.6,815.0 L1003.3,820.9 L1001.8,826.9 L1000.2,832.8 L998.5,838.6 L996.7,844.5 L994.8,850.3 L992.7,856.0 L990.6,861.7 L988.3,867.4 L986.0,873.0 L983.5,878.5 L980.9,884.0 L978.2,889.4 L975.4,894.8 L972.5,900.1 L969.5,905.4 L966.4,910.5 L963.2,915.6 L959.9,920.7 L956.4,925.6 L952.9,930.5 L949.3,935.3 L945.6,940.0 L941.7,944.6 L937.8,949.1 L933.8,953.6 L929.7,957.9 L925.5,962.2 L921.1,966.3 L916.7,970.4 L912.2,974.3 L907.6,978.2 L902.9,981.9 L898.2,985.5 L893.3,989.1 L888.3,992.4 L883.3,995.7 L878.1,998.9 L880.0,997.0 L885.9,995.6 L891.8,994.2 L897.7,992.8 L903.5,991.3 L909.4,989.9 L915.3,988.4 L921.2,986.9 L927.1,985.4 L933.0,983.9 L938.8,982.3 L944.7,980.8 L950.6,979.2 L956.4,977.6 L962.3,976.0 L968.1,974.3 L974.0,972.7 L979.8,971.0 L985.7,969.3 L991.5,967.6 L997.3,965.8 L1003.1,964.0 L1008.9,962.2 L1014.7,960.4 L1020.5,958.5 L1026.3,956.7 L1032.0,954.8 L1037.8,952.8 L1043.5,950.9 L1049.3,948.9 L1055.0,946.8 L1060.7,944.8 L1066.4,942.7 L1072.1,940.6 L1077.7,938.4 L1083.4,936.3 L1089.1,934.1 L1094.7,931.8 L1100.3,929.6 L1105.9,927.3 L1111.5,925.0 L1117.1,922.6 L1122.7,920.3 L1128.3,917.9 L1133.8,915.4 L1139.4,913.0 L1144.9,910.5 L1150.4,908.0 L1155.9,905.5 L1161.4,902.9 L1166.9,900.3 L1172.3,897.7 L1177.8,895.0 L1183.2,892.4 L1188.6,889.7 L1194.1,887.0 L1199.5,884.2 L1204.9,881.5 L1210.3,878.7 L1215.7,875.9 L1221.1,873.1 L1226.4,870.3 L1231.8,867.5 L1237.2,864.7 L1242.6,861.9 L1247.9,859.0 L1253.3,856.2 L1258.7,853.3 L1264.0,850.5 L1269.4,847.7 L1274.8,844.8 L1280.1,842.0 L1285.5,839.2 L1290.9,836.3 L1296.3,833.5 L1301.6,830.7 L1307.0,827.8 L1312.4,825.0 L1317.8,822.1 L1323.1,819.3 L1328.5,816.4 L1333.8,813.5 L1339.1,810.6 L1344.4,807.7 L1349.7,804.7 L1355.0,801.7 L1360.2,798.7 L1365.5,795.7 L1370.7,792.6 L1375.8,789.4 L1381.0,786.3 L1386.1,783.1 L1391.2,779.8 L1396.2,776.5 L1401.3,773.2 L1406.3,769.8 L1411.2,766.3 L1416.1,762.8 L1421.0,759.2 L1425.8,755.6 L1430.6,751.8 L1435.3,748.1 L1440.0,744.2 L1444.6,740.3 L1449.2,736.3 L1453.7,732.2 L1458.2,728.1 L1462.6,723.8 L1466.9,719.5 L1471.2,715.1 L1475.4,710.5 L1479.6,705.9 L1483.7,701.2 Z" fill="url(#flapg)"/>
<use href="#Fp" fill="none" stroke="#d5e6e8" stroke-width="1.2"/>
<path d="M1016.0,719.1 L1015.9,725.0 L1015.7,731.0 L1015.4,737.0 L1015.1,743.0 L1014.8,749.0 L1014.4,755.1 L1013.9,761.1 L1013.3,767.2 L1012.7,773.3 L1012.0,779.4 L1011.2,785.4 L1010.3,791.5 L1009.3,797.5 L1008.3,803.6 L1007.1,809.6 L1005.8,815.6 L1004.5,821.5 L1003.0,827.5 L1001.4,833.4 L999.7,839.2 L997.9,845.1 L996.0,850.9 L993.9,856.6 L991.8,862.3 L989.5,868.0 L987.2,873.6 L984.7,879.1 L982.1,884.6 L979.4,890.0 L976.6,895.4 L973.7,900.7 L970.7,906.0 L967.6,911.1 L964.4,916.2 L961.1,921.3 L957.6,926.2 L954.1,931.1 L950.5,935.9 L946.8,940.6 L942.9,945.2 L939.0,949.7 L935.0,954.2 L930.9,958.5 L926.7,962.8 L922.3,966.9 L917.9,971.0 L913.4,974.9 L908.8,978.8 L904.1,982.5 L899.4,986.1 L894.5,989.7 L889.5,993.0 L884.5,996.3 L879.3,999.5 L874.1,1002.6 L868.8,1005.5 L863.5,1008.4 L858.1,1011.1 L852.6,1013.8 L847.0,1016.3 L841.4,1018.7 L835.8,1021.1 L830.1,1023.3 L824.4,1025.5 L818.6,1027.6 L812.8,1029.6 L807.0,1031.5 L801.2,1033.3 L795.3,1035.0 L789.4,1036.6 L783.5,1038.2 L777.6,1039.7 L771.7,1041.1 L765.8,1042.4 L759.9,1043.7 L753.9,1044.9 L748.0,1046.0 L742.1,1047.1 L736.1,1048.1 L730.1,1049.0 L724.2,1049.9 L718.2,1050.7 L712.2,1051.5 L706.2,1052.2 L700.2,1052.9 L694.2,1053.6 L688.2,1054.2 L682.2,1054.7 L676.2,1055.2 L670.2,1055.7 L664.2,1056.2 L658.2,1056.6 L652.1,1057.0 L646.1,1057.4 L640.0,1057.8 L634.0,1058.1 L628.0,1058.4 L621.9,1058.7 L615.8,1059.0 L609.8,1059.3 L603.7,1059.6 L597.7,1059.9 L591.6,1060.1 L585.5,1060.4 L579.5,1060.7 L573.4,1061.0 L567.3,1061.3 L561.2,1061.6" fill="none" stroke="#e6eef0" stroke-width="1.6"/>
<line x1="147.3" y1="570.5" x2="1585" y2="570.5" stroke="#7d7d7d" stroke-width="1.1" stroke-dasharray="1.1 3.94"/>
<line x1="147.3" y1="703.8" x2="1585" y2="703.8" stroke="#7d7d7d" stroke-width="1.1" stroke-dasharray="1.1 3.94"/>
</svg>
<div class="t" style="left:299.67px;top:90.19px;font-size:55.07px;line-height:55.07px;font-weight:700;color:#d01e2f;transform:scaleX(0.8025);letter-spacing:0.03em;-webkit-text-stroke:0px #d01e2f;">A YEAR-OVER-YEAR LOOK AT MARKET INDICATORS</div>
<div class="t" style="left:745.26px;top:229.58px;font-size:46.38px;line-height:46.38px;font-weight:700;color:#0a0a0a;transform:scaleX(0.8450);letter-spacing:0.06em;-webkit-text-stroke:0px #0a0a0a;">NATIONAL</div>
<div class="t" style="left:269.38px;top:320.39px;font-size:37.54px;line-height:37.54px;font-weight:400;color:#262626;transform:scaleX(0.8074);letter-spacing:0.1em;-webkit-text-stroke:0px #262626;">REPORT</div>
<div class="t" style="left:822.40px;top:320.15px;font-size:37.83px;line-height:37.83px;font-weight:400;color:#262626;transform:scaleX(0.8955);letter-spacing:0.02em;-webkit-text-stroke:0px #262626;">A YEAR AGO</div>
<div class="t" style="left:1134.96px;top:320.15px;font-size:37.83px;line-height:37.83px;font-weight:400;color:#262626;transform:scaleX(0.8678);letter-spacing:0.07em;-webkit-text-stroke:0px #262626;">CURRENT</div>
<div class="t" style="left:171.88px;top:478.44px;font-size:55.36px;line-height:55.36px;font-weight:700;color:#3a3a3c;transform:scaleX(0.7279);letter-spacing:0em;-webkit-text-stroke:0px #3a3a3c;">INTEREST RATES</div>
<div class="t" style="left:170.11px;top:616.87px;font-size:55.80px;line-height:55.80px;font-weight:700;color:#3a3a3c;transform:scaleX(0.7910);letter-spacing:0em;-webkit-text-stroke:0px #3a3a3c;">PENDING HOMES SALES</div>
<div class="t" style="left:712.69px;top:622.09px;font-size:31.43px;line-height:31.43px;font-weight:700;color:#a7a8ac;transform:scaleX(0.9610);letter-spacing:0em;-webkit-text-stroke:0px #a7a8ac;">2</div>
<div class="t" style="left:171.71px;top:739.32px;font-size:55.51px;line-height:55.51px;font-weight:700;color:#3a3a3c;transform:scaleX(0.7684);letter-spacing:0em;-webkit-text-stroke:0px #3a3a3c;">BUILDER CONFIDENCE</div>
<div class="t" style="left:666.35px;top:743.66px;font-size:30.28px;line-height:30.28px;font-weight:700;color:#a7a8ac;transform:scaleX(0.9114);letter-spacing:0em;-webkit-text-stroke:0px #a7a8ac;">3</div>
<div class="t" style="left:875.88px;top:477.89px;font-size:56.76px;line-height:56.76px;font-weight:700;color:#636466;transform:scaleX(0.8468);letter-spacing:0.03em;-webkit-text-stroke:0px #636466;">6.50%</div>
<div class="t" style="left:1205.28px;top:477.89px;font-size:56.76px;line-height:56.76px;font-weight:700;color:#636466;transform:scaleX(0.8461);letter-spacing:0.03em;-webkit-text-stroke:0px #636466;">6.90%</div>
<div class="t" style="left:876.83px;top:619.76px;font-size:54.93px;line-height:54.93px;font-weight:700;color:#636466;transform:scaleX(0.8963);letter-spacing:0.03em;-webkit-text-stroke:0px #636466;">76.3</div>
<div class="t" style="left:1206.33px;top:619.76px;font-size:54.93px;line-height:54.93px;font-weight:700;color:#636466;transform:scaleX(0.8963);letter-spacing:0.03em;-webkit-text-stroke:0px #636466;">77.3</div>
<div class="t" style="left:877.97px;top:744.55px;font-size:55.00px;line-height:55.00px;font-weight:700;color:#636466;transform:scaleX(0.9394);letter-spacing:0.03em;-webkit-text-stroke:0px #636466;">42</div>
<div class="t" style="left:1516.72px;top:810.01px;font-size:58.70px;line-height:58.70px;font-weight:400;color:#fff;transform:scaleX(0.4714);letter-spacing:0.11em;-webkit-text-stroke:0.8px #fff;">CHECK OUT</div>
<div class="t" style="left:1363.09px;top:872.50px;font-size:55.65px;line-height:55.65px;font-weight:700;color:#fff;transform:scaleX(0.7990);letter-spacing:0em;-webkit-text-stroke:0px #fff;">LOCAL MARKET</div>
<div class="t" style="left:1368.42px;top:932.90px;font-size:55.65px;line-height:55.65px;font-weight:700;color:#fff;transform:scaleX(0.8151);letter-spacing:0em;-webkit-text-stroke:0px #fff;">NUMBERS</div>
<div class="t" style="left:1614.10px;top:930.19px;font-size:58.84px;line-height:58.84px;font-weight:400;color:#fff;transform:scaleX(0.4455);letter-spacing:0.11em;-webkit-text-stroke:0.8px #fff;">HERE!</div>
<svg width="1763" height="1058" style="left:0;top:0"><path d="M530.8,485.3 L537.8,485.3 L537.8,507 L533.9,507 L533.9,488.7 L530.8,488.7 Z" fill="#a7a8ac"/></svg>
<svg width="110" height="85" viewBox="0 0 1369 1058" style="left:1450px;top:470px">
<path fill="#ec1c24" d="M200,180 L345,190 L335,572 L175,568 Q160,565 162,540 L185,205 Q190,182 200,180 Z"/>
<path fill="#ec1c24" d="M405,197 L560,212 Q600,210 640,180 Q680,158 760,152 L960,145 Q1040,150 1055,235 Q1090,262 1088,320 Q1085,360 1092,378 Q1120,405 1113,470 Q1110,492 1120,503 Q1146,535 1140,580 Q1126,630 1070,633 L850,645 Q845,670 855,700 Q872,770 845,880 Q825,945 772,945 Q728,945 720,900 L718,800 Q715,770 700,750 L600,600 Q580,575 540,575 L390,572 Z"/>
</svg>
<svg width="110" height="85" viewBox="0 0 1369 1058" style="left:1450px;top:595px">
<path fill="#00b3ef" d="M185,525 L320,518 L338,865 L215,880 Q185,880 182,840 L165,555 Q165,527 185,525 Z"/>
<path fill="#00b3ef" d="M365,518 L540,518 Q560,510 580,480 L660,340 Q670,320 670,240 Q670,175 720,172 Q765,172 775,210 L795,300 Q810,360 790,440 Q800,460 830,462 L990,462 Q1060,470 1057,540 Q1052,570 1035,592 Q1048,640 1022,682 Q1014,696 1008,706 Q1016,755 992,786 Q983,798 980,812 Q985,902 900,910 L650,895 Q600,890 560,860 Q520,840 450,850 L385,865 Z"/>
</svg>
</body></html>
